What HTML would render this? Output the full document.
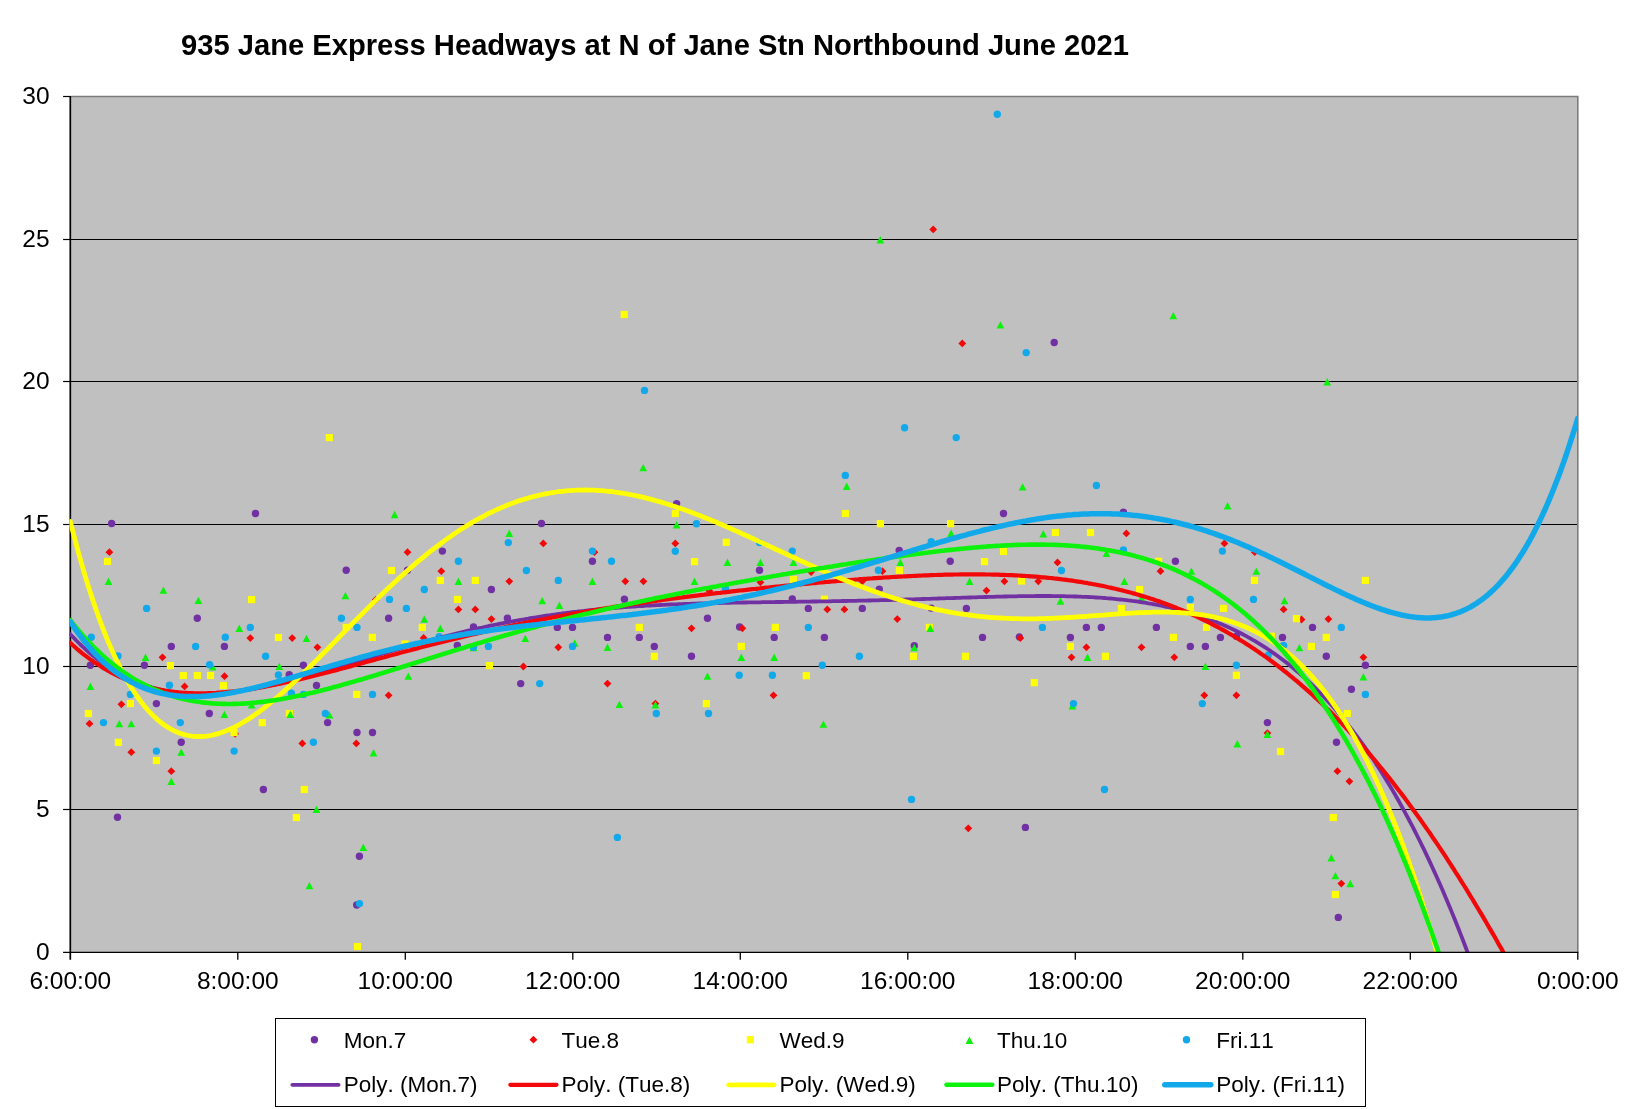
<!DOCTYPE html>
<html><head><meta charset="utf-8"><title>935 Jane Express Headways</title>
<style>
html,body{margin:0;padding:0;background:#fff;}
svg{display:block}
text{font-family:"Liberation Sans",sans-serif;fill:#000;font-kerning:none}
.ax{font-size:24.5px}
.lg{font-size:22.5px}
.ti{font-size:29.17px;font-weight:bold}
</style></head><body>
<svg width="1628" height="1109" viewBox="0 0 1628 1109">
<rect width="1628" height="1109" fill="#fff"/>
<defs><clipPath id="pc"><rect x="69.39999999999999" y="96.5" width="1508.4" height="855.4"/></clipPath></defs>
<rect x="70.3" y="96.5" width="1507.5" height="856.0" fill="#C0C0C0"/>

<line x1="70.3" y1="809.50" x2="1577.8" y2="809.50" stroke="#000" stroke-width="1" shape-rendering="crispEdges"/>
<line x1="70.3" y1="666.50" x2="1577.8" y2="666.50" stroke="#000" stroke-width="1" shape-rendering="crispEdges"/>
<line x1="70.3" y1="524.50" x2="1577.8" y2="524.50" stroke="#000" stroke-width="1" shape-rendering="crispEdges"/>
<line x1="70.3" y1="381.50" x2="1577.8" y2="381.50" stroke="#000" stroke-width="1" shape-rendering="crispEdges"/>
<line x1="70.3" y1="239.50" x2="1577.8" y2="239.50" stroke="#000" stroke-width="1" shape-rendering="crispEdges"/>
<path d="M70.3,96.50H1577.8V952.5" fill="none" stroke="#7c7c7c" stroke-width="1.6"/>
<line x1="70.3" y1="96.00" x2="70.3" y2="959.80" stroke="#000" stroke-width="1.7"/>
<line x1="63.099999999999994" y1="809.50" x2="70.3" y2="809.50" stroke="#000" stroke-width="1.2"/>
<line x1="63.099999999999994" y1="666.50" x2="70.3" y2="666.50" stroke="#000" stroke-width="1.2"/>
<line x1="63.099999999999994" y1="524.50" x2="70.3" y2="524.50" stroke="#000" stroke-width="1.2"/>
<line x1="63.099999999999994" y1="381.50" x2="70.3" y2="381.50" stroke="#000" stroke-width="1.2"/>
<line x1="63.099999999999994" y1="239.50" x2="70.3" y2="239.50" stroke="#000" stroke-width="1.2"/>
<line x1="63.099999999999994" y1="96.50" x2="70.3" y2="96.50" stroke="#000" stroke-width="1.2"/>
<line x1="237.80" y1="952.50" x2="237.80" y2="959.80" stroke="#000" stroke-width="1.3"/>
<line x1="405.30" y1="952.50" x2="405.30" y2="959.80" stroke="#000" stroke-width="1.3"/>
<line x1="572.80" y1="952.50" x2="572.80" y2="959.80" stroke="#000" stroke-width="1.3"/>
<line x1="740.30" y1="952.50" x2="740.30" y2="959.80" stroke="#000" stroke-width="1.3"/>
<line x1="907.80" y1="952.50" x2="907.80" y2="959.80" stroke="#000" stroke-width="1.3"/>
<line x1="1075.30" y1="952.50" x2="1075.30" y2="959.80" stroke="#000" stroke-width="1.3"/>
<line x1="1242.80" y1="952.50" x2="1242.80" y2="959.80" stroke="#000" stroke-width="1.3"/>
<line x1="1410.30" y1="952.50" x2="1410.30" y2="959.80" stroke="#000" stroke-width="1.3"/>
<line x1="1577.80" y1="952.50" x2="1577.80" y2="959.80" stroke="#000" stroke-width="1.3"/>
<g>
<circle cx="111.6" cy="523.5" r="3.7" fill="#7131A3"/>
<circle cx="255.5" cy="513.5" r="3.7" fill="#7131A3"/>
<circle cx="346.2" cy="570.3" r="3.7" fill="#7131A3"/>
<circle cx="197.3" cy="618.2" r="3.7" fill="#7131A3"/>
<circle cx="171.3" cy="646.4" r="3.7" fill="#7131A3"/>
<circle cx="224.4" cy="646.4" r="3.7" fill="#7131A3"/>
<circle cx="90.4" cy="665.2" r="3.7" fill="#7131A3"/>
<circle cx="144.4" cy="665.2" r="3.7" fill="#7131A3"/>
<circle cx="303.4" cy="665.2" r="3.7" fill="#7131A3"/>
<circle cx="289.2" cy="674.8" r="3.7" fill="#7131A3"/>
<circle cx="442.4" cy="551.1" r="3.7" fill="#7131A3"/>
<circle cx="407.5" cy="570.3" r="3.7" fill="#7131A3"/>
<circle cx="541.5" cy="523.5" r="3.7" fill="#7131A3"/>
<circle cx="592.4" cy="561.3" r="3.7" fill="#7131A3"/>
<circle cx="491.4" cy="589.5" r="3.7" fill="#7131A3"/>
<circle cx="624.4" cy="599.2" r="3.7" fill="#7131A3"/>
<circle cx="388.6" cy="618.2" r="3.7" fill="#7131A3"/>
<circle cx="507.4" cy="618.2" r="3.7" fill="#7131A3"/>
<circle cx="473.5" cy="627.0" r="3.7" fill="#7131A3"/>
<circle cx="557.3" cy="627.4" r="3.7" fill="#7131A3"/>
<circle cx="572.5" cy="627.4" r="3.7" fill="#7131A3"/>
<circle cx="607.5" cy="637.4" r="3.7" fill="#7131A3"/>
<circle cx="639.3" cy="637.4" r="3.7" fill="#7131A3"/>
<circle cx="654.3" cy="646.4" r="3.7" fill="#7131A3"/>
<circle cx="457.3" cy="645.5" r="3.7" fill="#7131A3"/>
<circle cx="520.7" cy="683.6" r="3.7" fill="#7131A3"/>
<circle cx="676.6" cy="503.6" r="3.7" fill="#7131A3"/>
<circle cx="759.5" cy="570.3" r="3.7" fill="#7131A3"/>
<circle cx="899.2" cy="550.4" r="3.7" fill="#7131A3"/>
<circle cx="950.2" cy="561.3" r="3.7" fill="#7131A3"/>
<circle cx="879.3" cy="589.1" r="3.7" fill="#7131A3"/>
<circle cx="792.3" cy="598.9" r="3.7" fill="#7131A3"/>
<circle cx="808.3" cy="608.4" r="3.7" fill="#7131A3"/>
<circle cx="862.3" cy="608.4" r="3.7" fill="#7131A3"/>
<circle cx="707.5" cy="618.2" r="3.7" fill="#7131A3"/>
<circle cx="739.6" cy="627.0" r="3.7" fill="#7131A3"/>
<circle cx="774.2" cy="637.4" r="3.7" fill="#7131A3"/>
<circle cx="824.4" cy="637.4" r="3.7" fill="#7131A3"/>
<circle cx="914.3" cy="645.8" r="3.7" fill="#7131A3"/>
<circle cx="691.5" cy="656.3" r="3.7" fill="#7131A3"/>
<circle cx="931.2" cy="608.1" r="3.7" fill="#7131A3"/>
<circle cx="1003.5" cy="513.5" r="3.7" fill="#7131A3"/>
<circle cx="1123.4" cy="512.2" r="3.7" fill="#7131A3"/>
<circle cx="1175.4" cy="561.3" r="3.7" fill="#7131A3"/>
<circle cx="966.4" cy="608.4" r="3.7" fill="#7131A3"/>
<circle cx="1086.4" cy="627.4" r="3.7" fill="#7131A3"/>
<circle cx="1101.3" cy="627.4" r="3.7" fill="#7131A3"/>
<circle cx="1156.4" cy="627.4" r="3.7" fill="#7131A3"/>
<circle cx="982.5" cy="637.4" r="3.7" fill="#7131A3"/>
<circle cx="1019.3" cy="637.0" r="3.7" fill="#7131A3"/>
<circle cx="1070.4" cy="637.4" r="3.7" fill="#7131A3"/>
<circle cx="1220.4" cy="637.4" r="3.7" fill="#7131A3"/>
<circle cx="1190.3" cy="646.4" r="3.7" fill="#7131A3"/>
<circle cx="1205.4" cy="646.4" r="3.7" fill="#7131A3"/>
<circle cx="1236.4" cy="636.3" r="3.7" fill="#7131A3"/>
<circle cx="1312.5" cy="627.4" r="3.7" fill="#7131A3"/>
<circle cx="1282.5" cy="637.4" r="3.7" fill="#7131A3"/>
<circle cx="1326.3" cy="656.3" r="3.7" fill="#7131A3"/>
<circle cx="1365.4" cy="665.2" r="3.7" fill="#7131A3"/>
<circle cx="156.4" cy="703.6" r="3.7" fill="#7131A3"/>
<circle cx="209.3" cy="713.5" r="3.7" fill="#7131A3"/>
<circle cx="316.5" cy="685.5" r="3.7" fill="#7131A3"/>
<circle cx="327.6" cy="722.6" r="3.7" fill="#7131A3"/>
<circle cx="357.0" cy="732.5" r="3.7" fill="#7131A3"/>
<circle cx="181.2" cy="742.3" r="3.7" fill="#7131A3"/>
<circle cx="263.4" cy="789.5" r="3.7" fill="#7131A3"/>
<circle cx="117.5" cy="817.3" r="3.7" fill="#7131A3"/>
<circle cx="359.4" cy="856.3" r="3.7" fill="#7131A3"/>
<circle cx="372.5" cy="732.5" r="3.7" fill="#7131A3"/>
<circle cx="1025.4" cy="827.4" r="3.7" fill="#7131A3"/>
<circle cx="1351.4" cy="689.2" r="3.7" fill="#7131A3"/>
<circle cx="1267.4" cy="722.6" r="3.7" fill="#7131A3"/>
<circle cx="1336.5" cy="742.3" r="3.7" fill="#7131A3"/>
<circle cx="356.7" cy="905.0" r="3.7" fill="#7131A3"/>
<circle cx="1338.3" cy="917.4" r="3.7" fill="#7131A3"/>
<circle cx="1054.2" cy="342.5" r="3.7" fill="#7131A3"/>
<path d="M109.4,548.3000000000001L113.30000000000001,552.2L109.4,556.1L105.5,552.2Z" fill="#F20808"/>
<path d="M250.3,634.2L254.20000000000002,638.1L250.3,642.0L246.4,638.1Z" fill="#F20808"/>
<path d="M292.2,634.2L296.09999999999997,638.1L292.2,642.0L288.3,638.1Z" fill="#F20808"/>
<path d="M317.4,643.4L321.29999999999995,647.3L317.4,651.1999999999999L313.5,647.3Z" fill="#F20808"/>
<path d="M162.5,653.4L166.4,657.3L162.5,661.1999999999999L158.6,657.3Z" fill="#F20808"/>
<path d="M224.5,672.3000000000001L228.4,676.2L224.5,680.1L220.6,676.2Z" fill="#F20808"/>
<path d="M407.5,548.3000000000001L411.4,552.2L407.5,556.1L403.6,552.2Z" fill="#F20808"/>
<path d="M441.3,567.3000000000001L445.2,571.2L441.3,575.1L437.40000000000003,571.2Z" fill="#F20808"/>
<path d="M543.3,539.5L547.1999999999999,543.4L543.3,547.3L539.4,543.4Z" fill="#F20808"/>
<path d="M594.4,548.3000000000001L598.3,552.2L594.4,556.1L590.5,552.2Z" fill="#F20808"/>
<path d="M509.3,577.4L513.2,581.3L509.3,585.1999999999999L505.40000000000003,581.3Z" fill="#F20808"/>
<path d="M625.3,577.4L629.1999999999999,581.3L625.3,585.1999999999999L621.4,581.3Z" fill="#F20808"/>
<path d="M643.4,577.4L647.3,581.3L643.4,585.1999999999999L639.5,581.3Z" fill="#F20808"/>
<path d="M375.7,595.9L379.59999999999997,599.8L375.7,603.6999999999999L371.8,599.8Z" fill="#F20808"/>
<path d="M458.4,605.5L462.29999999999995,609.4L458.4,613.3L454.5,609.4Z" fill="#F20808"/>
<path d="M475.3,605.5L479.2,609.4L475.3,613.3L471.40000000000003,609.4Z" fill="#F20808"/>
<path d="M491.4,615.2L495.29999999999995,619.1L491.4,623.0L487.5,619.1Z" fill="#F20808"/>
<path d="M423.6,634.0L427.5,637.9L423.6,641.8L419.70000000000005,637.9Z" fill="#F20808"/>
<path d="M558.3,643.4L562.1999999999999,647.3L558.3,651.1999999999999L554.4,647.3Z" fill="#F20808"/>
<path d="M523.4,662.6L527.3,666.5L523.4,670.4L519.5,666.5Z" fill="#F20808"/>
<path d="M607.5,679.7L611.4,683.6L607.5,687.5L603.6,683.6Z" fill="#F20808"/>
<path d="M675.3,539.5L679.1999999999999,543.4L675.3,547.3L671.4,543.4Z" fill="#F20808"/>
<path d="M811.1,568.2L815.0,572.1L811.1,576.0L807.2,572.1Z" fill="#F20808"/>
<path d="M882.4,567.3000000000001L886.3,571.2L882.4,575.1L878.5,571.2Z" fill="#F20808"/>
<path d="M760.4,578.4L764.3,582.3L760.4,586.1999999999999L756.5,582.3Z" fill="#F20808"/>
<path d="M862.3,577.4L866.1999999999999,581.3L862.3,585.1999999999999L858.4,581.3Z" fill="#F20808"/>
<path d="M709.4,587.0L713.3,590.9L709.4,594.8L705.5,590.9Z" fill="#F20808"/>
<path d="M827.3,605.5L831.1999999999999,609.4L827.3,613.3L823.4,609.4Z" fill="#F20808"/>
<path d="M844.4,605.5L848.3,609.4L844.4,613.3L840.5,609.4Z" fill="#F20808"/>
<path d="M897.3,615.2L901.1999999999999,619.1L897.3,623.0L893.4,619.1Z" fill="#F20808"/>
<path d="M691.5,624.4L695.4,628.3L691.5,632.1999999999999L687.6,628.3Z" fill="#F20808"/>
<path d="M742.4,624.4L746.3,628.3L742.4,632.1999999999999L738.5,628.3Z" fill="#F20808"/>
<path d="M1126.4,529.5L1130.3000000000002,533.4L1126.4,537.3L1122.5,533.4Z" fill="#F20808"/>
<path d="M1224.4,539.5L1228.3000000000002,543.4L1224.4,547.3L1220.5,543.4Z" fill="#F20808"/>
<path d="M1057.5,558.5L1061.4,562.4L1057.5,566.3L1053.6,562.4Z" fill="#F20808"/>
<path d="M1160.5,567.3000000000001L1164.4,571.2L1160.5,575.1L1156.6,571.2Z" fill="#F20808"/>
<path d="M1004.4,577.4L1008.3,581.3L1004.4,585.1999999999999L1000.5,581.3Z" fill="#F20808"/>
<path d="M1038.3,577.4L1042.2,581.3L1038.3,585.1999999999999L1034.3999999999999,581.3Z" fill="#F20808"/>
<path d="M986.5,586.7L990.4,590.6L986.5,594.5L982.6,590.6Z" fill="#F20808"/>
<path d="M1020.3,634.2L1024.2,638.1L1020.3,642.0L1016.4,638.1Z" fill="#F20808"/>
<path d="M1086.4,643.4L1090.3000000000002,647.3L1086.4,651.1999999999999L1082.5,647.3Z" fill="#F20808"/>
<path d="M1141.5,643.4L1145.4,647.3L1141.5,651.1999999999999L1137.6,647.3Z" fill="#F20808"/>
<path d="M1071.5,653.4L1075.4,657.3L1071.5,661.1999999999999L1067.6,657.3Z" fill="#F20808"/>
<path d="M1174.3,653.4L1178.2,657.3L1174.3,661.1999999999999L1170.3999999999999,657.3Z" fill="#F20808"/>
<path d="M1254.8,548.3000000000001L1258.7,552.2L1254.8,556.1L1250.8999999999999,552.2Z" fill="#F20808"/>
<path d="M1283.6,605.5L1287.5,609.4L1283.6,613.3L1279.6999999999998,609.4Z" fill="#F20808"/>
<path d="M1301.5,615.6L1305.4,619.5L1301.5,623.4L1297.6,619.5Z" fill="#F20808"/>
<path d="M1328.4,615.2L1332.3000000000002,619.1L1328.4,623.0L1324.5,619.1Z" fill="#F20808"/>
<path d="M1363.4,653.4L1367.3000000000002,657.3L1363.4,661.1999999999999L1359.5,657.3Z" fill="#F20808"/>
<path d="M184.6,682.5L188.5,686.4L184.6,690.3L180.7,686.4Z" fill="#F20808"/>
<path d="M121.4,700.4L125.30000000000001,704.3L121.4,708.1999999999999L117.5,704.3Z" fill="#F20808"/>
<path d="M89.5,719.8000000000001L93.4,723.7L89.5,727.6L85.6,723.7Z" fill="#F20808"/>
<path d="M235.1,729.9L239.0,733.8L235.1,737.6999999999999L231.2,733.8Z" fill="#F20808"/>
<path d="M302.3,739.5L306.2,743.4L302.3,747.3L298.40000000000003,743.4Z" fill="#F20808"/>
<path d="M356.3,739.5L360.2,743.4L356.3,747.3L352.40000000000003,743.4Z" fill="#F20808"/>
<path d="M131.3,748.3000000000001L135.20000000000002,752.2L131.3,756.1L127.4,752.2Z" fill="#F20808"/>
<path d="M171.3,767.3000000000001L175.20000000000002,771.2L171.3,775.1L167.4,771.2Z" fill="#F20808"/>
<path d="M388.6,691.4L392.5,695.3L388.6,699.1999999999999L384.70000000000005,695.3Z" fill="#F20808"/>
<path d="M655.4,699.7L659.3,703.6L655.4,707.5L651.5,703.6Z" fill="#F20808"/>
<path d="M773.5,691.4L777.4,695.3L773.5,699.1999999999999L769.6,695.3Z" fill="#F20808"/>
<path d="M1204.3,691.4L1208.2,695.3L1204.3,699.1999999999999L1200.3999999999999,695.3Z" fill="#F20808"/>
<path d="M1236.4,691.4L1240.3000000000002,695.3L1236.4,699.1999999999999L1232.5,695.3Z" fill="#F20808"/>
<path d="M968.3,824.4L972.1999999999999,828.3L968.3,832.1999999999999L964.4,828.3Z" fill="#F20808"/>
<path d="M1337.4,767.3000000000001L1341.3000000000002,771.2L1337.4,775.1L1333.5,771.2Z" fill="#F20808"/>
<path d="M1349.4,777.4L1353.3000000000002,781.3L1349.4,785.1999999999999L1345.5,781.3Z" fill="#F20808"/>
<path d="M1267.4,729.2L1271.3000000000002,733.1L1267.4,737.0L1263.5,733.1Z" fill="#F20808"/>
<path d="M1341.3,879.7L1345.2,883.6L1341.3,887.5L1337.3999999999999,883.6Z" fill="#F20808"/>
<path d="M933.2,225.5L937.1,229.4L933.2,233.3L929.3000000000001,229.4Z" fill="#F20808"/>
<path d="M962.3,339.5L966.1999999999999,343.4L962.3,347.29999999999995L958.4,343.4Z" fill="#F20808"/>
<rect x="103.9" y="557.8" width="7.2" height="7.2" fill="#FFFF00"/>
<rect x="248.0" y="596.0" width="7.2" height="7.2" fill="#FFFF00"/>
<rect x="274.8" y="633.9" width="7.2" height="7.2" fill="#FFFF00"/>
<rect x="342.6" y="623.8" width="7.2" height="7.2" fill="#FFFF00"/>
<rect x="166.8" y="662.0" width="7.2" height="7.2" fill="#FFFF00"/>
<rect x="179.7" y="671.9" width="7.2" height="7.2" fill="#FFFF00"/>
<rect x="193.7" y="671.9" width="7.2" height="7.2" fill="#FFFF00"/>
<rect x="206.9" y="671.9" width="7.2" height="7.2" fill="#FFFF00"/>
<rect x="387.9" y="566.9" width="7.2" height="7.2" fill="#FFFF00"/>
<rect x="436.7" y="576.8" width="7.2" height="7.2" fill="#FFFF00"/>
<rect x="471.7" y="576.8" width="7.2" height="7.2" fill="#FFFF00"/>
<rect x="453.9" y="595.8" width="7.2" height="7.2" fill="#FFFF00"/>
<rect x="418.7" y="623.8" width="7.2" height="7.2" fill="#FFFF00"/>
<rect x="368.7" y="633.8" width="7.2" height="7.2" fill="#FFFF00"/>
<rect x="635.7" y="623.8" width="7.2" height="7.2" fill="#FFFF00"/>
<rect x="650.7" y="652.7" width="7.2" height="7.2" fill="#FFFF00"/>
<rect x="485.8" y="662.0" width="7.2" height="7.2" fill="#FFFF00"/>
<rect x="401.5" y="640.4" width="7.2" height="7.2" fill="#FFFF00"/>
<rect x="671.7" y="509.9" width="7.2" height="7.2" fill="#FFFF00"/>
<rect x="841.8" y="509.9" width="7.2" height="7.2" fill="#FFFF00"/>
<rect x="876.8" y="520.1" width="7.2" height="7.2" fill="#FFFF00"/>
<rect x="947.0" y="520.1" width="7.2" height="7.2" fill="#FFFF00"/>
<rect x="722.7" y="538.7" width="7.2" height="7.2" fill="#FFFF00"/>
<rect x="690.9" y="558.0" width="7.2" height="7.2" fill="#FFFF00"/>
<rect x="895.8" y="566.7" width="7.2" height="7.2" fill="#FFFF00"/>
<rect x="789.8" y="575.9" width="7.2" height="7.2" fill="#FFFF00"/>
<rect x="820.8" y="595.6" width="7.2" height="7.2" fill="#FFFF00"/>
<rect x="771.7" y="623.8" width="7.2" height="7.2" fill="#FFFF00"/>
<rect x="925.8" y="623.8" width="7.2" height="7.2" fill="#FFFF00"/>
<rect x="737.7" y="642.8" width="7.2" height="7.2" fill="#FFFF00"/>
<rect x="909.8" y="652.7" width="7.2" height="7.2" fill="#FFFF00"/>
<rect x="802.7" y="672.1" width="7.2" height="7.2" fill="#FFFF00"/>
<rect x="1051.8" y="528.9" width="7.2" height="7.2" fill="#FFFF00"/>
<rect x="1086.9" y="528.9" width="7.2" height="7.2" fill="#FFFF00"/>
<rect x="999.9" y="547.9" width="7.2" height="7.2" fill="#FFFF00"/>
<rect x="980.9" y="558.0" width="7.2" height="7.2" fill="#FFFF00"/>
<rect x="1155.0" y="557.7" width="7.2" height="7.2" fill="#FFFF00"/>
<rect x="1017.9" y="577.4" width="7.2" height="7.2" fill="#FFFF00"/>
<rect x="1136.1" y="585.9" width="7.2" height="7.2" fill="#FFFF00"/>
<rect x="1250.9" y="576.8" width="7.2" height="7.2" fill="#FFFF00"/>
<rect x="1117.8" y="604.8" width="7.2" height="7.2" fill="#FFFF00"/>
<rect x="1186.7" y="603.9" width="7.2" height="7.2" fill="#FFFF00"/>
<rect x="1219.9" y="604.8" width="7.2" height="7.2" fill="#FFFF00"/>
<rect x="1202.9" y="623.8" width="7.2" height="7.2" fill="#FFFF00"/>
<rect x="1169.8" y="633.8" width="7.2" height="7.2" fill="#FFFF00"/>
<rect x="1066.8" y="642.8" width="7.2" height="7.2" fill="#FFFF00"/>
<rect x="961.9" y="652.7" width="7.2" height="7.2" fill="#FFFF00"/>
<rect x="1101.8" y="652.7" width="7.2" height="7.2" fill="#FFFF00"/>
<rect x="1232.8" y="671.7" width="7.2" height="7.2" fill="#FFFF00"/>
<rect x="1030.7" y="679.1" width="7.2" height="7.2" fill="#FFFF00"/>
<rect x="1361.8" y="576.8" width="7.2" height="7.2" fill="#FFFF00"/>
<rect x="1292.9" y="615.0" width="7.2" height="7.2" fill="#FFFF00"/>
<rect x="1322.7" y="633.8" width="7.2" height="7.2" fill="#FFFF00"/>
<rect x="1307.8" y="642.8" width="7.2" height="7.2" fill="#FFFF00"/>
<rect x="219.8" y="681.9" width="7.2" height="7.2" fill="#FFFF00"/>
<rect x="126.8" y="700.0" width="7.2" height="7.2" fill="#FFFF00"/>
<rect x="84.8" y="709.9" width="7.2" height="7.2" fill="#FFFF00"/>
<rect x="258.7" y="719.0" width="7.2" height="7.2" fill="#FFFF00"/>
<rect x="285.8" y="709.9" width="7.2" height="7.2" fill="#FFFF00"/>
<rect x="230.5" y="728.9" width="7.2" height="7.2" fill="#FFFF00"/>
<rect x="114.8" y="738.7" width="7.2" height="7.2" fill="#FFFF00"/>
<rect x="152.8" y="756.9" width="7.2" height="7.2" fill="#FFFF00"/>
<rect x="300.7" y="785.9" width="7.2" height="7.2" fill="#FFFF00"/>
<rect x="292.8" y="813.9" width="7.2" height="7.2" fill="#FFFF00"/>
<rect x="353.1" y="690.8" width="7.2" height="7.2" fill="#FFFF00"/>
<rect x="702.8" y="700.0" width="7.2" height="7.2" fill="#FFFF00"/>
<rect x="1343.7" y="709.9" width="7.2" height="7.2" fill="#FFFF00"/>
<rect x="1276.9" y="747.9" width="7.2" height="7.2" fill="#FFFF00"/>
<rect x="1329.7" y="813.9" width="7.2" height="7.2" fill="#FFFF00"/>
<rect x="353.9" y="942.9" width="7.2" height="7.2" fill="#FFFF00"/>
<rect x="1331.8" y="890.9" width="7.2" height="7.2" fill="#FFFF00"/>
<rect x="620.6" y="310.9" width="7.2" height="7.2" fill="#FFFF00"/>
<rect x="325.7" y="434.0" width="7.2" height="7.2" fill="#FFFF00"/>
<rect x="1267.8" y="632.7" width="7.2" height="7.2" fill="#FFFF00"/>
<path d="M108.5,577.5L112.4,584.9L104.6,584.9Z" fill="#0CF20C"/>
<path d="M163.4,586.4L167.3,593.8L159.5,593.8Z" fill="#0CF20C"/>
<path d="M198.4,596.7L202.3,604.1L194.5,604.1Z" fill="#0CF20C"/>
<path d="M345.4,591.9L349.3,599.3L341.5,599.3Z" fill="#0CF20C"/>
<path d="M239.3,624.5L243.2,631.9L235.4,631.9Z" fill="#0CF20C"/>
<path d="M306.5,634.7L310.4,642.1L302.6,642.1Z" fill="#0CF20C"/>
<path d="M145.5,653.5L149.4,660.9L141.6,660.9Z" fill="#0CF20C"/>
<path d="M279.3,662.7L283.2,670.1L275.4,670.1Z" fill="#0CF20C"/>
<path d="M212.6,663.2L216.5,670.6L208.7,670.6Z" fill="#0CF20C"/>
<path d="M394.6,510.8L398.5,518.2L390.7,518.2Z" fill="#0CF20C"/>
<path d="M509.3,529.6L513.2,537.0L505.4,537.0Z" fill="#0CF20C"/>
<path d="M458.4,577.5L462.3,584.9L454.5,584.9Z" fill="#0CF20C"/>
<path d="M592.4,577.5L596.3,584.9L588.5,584.9Z" fill="#0CF20C"/>
<path d="M542.2,596.9L546.1,604.3L538.3,604.3Z" fill="#0CF20C"/>
<path d="M559.4,601.5L563.3,608.9L555.5,608.9Z" fill="#0CF20C"/>
<path d="M424.3,615.3L428.2,622.7L420.4,622.7Z" fill="#0CF20C"/>
<path d="M440.3,624.5L444.2,631.9L436.4,631.9Z" fill="#0CF20C"/>
<path d="M525.3,634.7L529.2,642.1L521.4,642.1Z" fill="#0CF20C"/>
<path d="M574.7,639.3L578.6,646.7L570.8,646.7Z" fill="#0CF20C"/>
<path d="M607.5,643.5L611.4,650.9L603.6,650.9Z" fill="#0CF20C"/>
<path d="M473.5,643.9L477.4,651.3L469.6,651.3Z" fill="#0CF20C"/>
<path d="M408.3,672.4L412.2,679.8L404.4,679.8Z" fill="#0CF20C"/>
<path d="M846.7,482.6L850.6,490.0L842.8,490.0Z" fill="#0CF20C"/>
<path d="M676.6,521.0L680.5,528.4L672.7,528.4Z" fill="#0CF20C"/>
<path d="M951.1,529.6L955.0,537.0L947.2,537.0Z" fill="#0CF20C"/>
<path d="M727.4,558.6L731.3,566.0L723.5,566.0Z" fill="#0CF20C"/>
<path d="M760.4,558.6L764.3,566.0L756.5,566.0Z" fill="#0CF20C"/>
<path d="M793.4,558.6L797.3,566.0L789.5,566.0Z" fill="#0CF20C"/>
<path d="M900.3,558.6L904.2,566.0L896.4,566.0Z" fill="#0CF20C"/>
<path d="M694.5,577.5L698.4,584.9L690.6,584.9Z" fill="#0CF20C"/>
<path d="M930.3,624.5L934.2,631.9L926.4,631.9Z" fill="#0CF20C"/>
<path d="M914.3,643.9L918.2,651.3L910.4,651.3Z" fill="#0CF20C"/>
<path d="M741.3,653.5L745.2,660.9L737.4,660.9Z" fill="#0CF20C"/>
<path d="M774.2,653.5L778.1,660.9L770.3,660.9Z" fill="#0CF20C"/>
<path d="M707.5,672.4L711.4,679.8L703.6,679.8Z" fill="#0CF20C"/>
<path d="M1022.6,483.2L1026.5,490.6L1018.7,490.6Z" fill="#0CF20C"/>
<path d="M1227.6,502.0L1231.5,509.4L1223.7,509.4Z" fill="#0CF20C"/>
<path d="M1043.3,530.0L1047.2,537.4L1039.4,537.4Z" fill="#0CF20C"/>
<path d="M1106.5,549.5L1110.4,556.9L1102.6,556.9Z" fill="#0CF20C"/>
<path d="M1191.4,567.4L1195.3,574.8L1187.5,574.8Z" fill="#0CF20C"/>
<path d="M1256.3,567.4L1260.2,574.8L1252.4,574.8Z" fill="#0CF20C"/>
<path d="M969.6,577.5L973.5,584.9L965.7,584.9Z" fill="#0CF20C"/>
<path d="M1124.4,577.5L1128.3,584.9L1120.5,584.9Z" fill="#0CF20C"/>
<path d="M1060.4,597.3L1064.3,604.7L1056.5,604.7Z" fill="#0CF20C"/>
<path d="M1141.5,594.1L1145.4,601.5L1137.6,601.5Z" fill="#0CF20C"/>
<path d="M1087.5,653.5L1091.4,660.9L1083.6,660.9Z" fill="#0CF20C"/>
<path d="M1205.4,662.7L1209.3,670.1L1201.5,670.1Z" fill="#0CF20C"/>
<path d="M1284.5,596.9L1288.4,604.3L1280.6,604.3Z" fill="#0CF20C"/>
<path d="M1299.4,643.9L1303.3,651.3L1295.5,651.3Z" fill="#0CF20C"/>
<path d="M1363.4,673.0L1367.3,680.4L1359.5,680.4Z" fill="#0CF20C"/>
<path d="M90.4,682.6L94.3,690.0L86.5,690.0Z" fill="#0CF20C"/>
<path d="M224.4,710.7L228.3,718.1L220.5,718.1Z" fill="#0CF20C"/>
<path d="M290.3,710.7L294.2,718.1L286.4,718.1Z" fill="#0CF20C"/>
<path d="M119.3,719.9L123.2,727.3L115.4,727.3Z" fill="#0CF20C"/>
<path d="M131.3,719.9L135.2,727.3L127.4,727.3Z" fill="#0CF20C"/>
<path d="M181.2,748.4L185.1,755.8L177.3,755.8Z" fill="#0CF20C"/>
<path d="M171.3,777.5L175.2,784.9L167.4,784.9Z" fill="#0CF20C"/>
<path d="M316.5,805.7L320.4,813.1L312.6,813.1Z" fill="#0CF20C"/>
<path d="M251.6,701.1L255.5,708.5L247.7,708.5Z" fill="#0CF20C"/>
<path d="M329.4,711.2L333.3,718.6L325.5,718.6Z" fill="#0CF20C"/>
<path d="M373.5,749.0L377.4,756.4L369.6,756.4Z" fill="#0CF20C"/>
<path d="M619.4,700.7L623.3,708.1L615.5,708.1Z" fill="#0CF20C"/>
<path d="M655.4,701.1L659.3,708.5L651.5,708.5Z" fill="#0CF20C"/>
<path d="M363.3,843.5L367.2,850.9L359.4,850.9Z" fill="#0CF20C"/>
<path d="M823.4,720.4L827.3,727.8L819.5,727.8Z" fill="#0CF20C"/>
<path d="M1072.4,702.0L1076.3,709.4L1068.5,709.4Z" fill="#0CF20C"/>
<path d="M1237.3,740.1L1241.2,747.5L1233.4,747.5Z" fill="#0CF20C"/>
<path d="M1267.4,730.6L1271.3,738.0L1263.5,738.0Z" fill="#0CF20C"/>
<path d="M1331.3,854.0L1335.2,861.4L1327.4,861.4Z" fill="#0CF20C"/>
<path d="M1335.4,871.9L1339.3,879.3L1331.5,879.3Z" fill="#0CF20C"/>
<path d="M1350.3,879.8L1354.2,887.2L1346.4,887.2Z" fill="#0CF20C"/>
<path d="M309.4,881.9L313.3,889.3L305.5,889.3Z" fill="#0CF20C"/>
<path d="M880.3,236.1L884.2,243.5L876.4,243.5Z" fill="#0CF20C"/>
<path d="M1000.4,321.2L1004.3,328.6L996.5,328.6Z" fill="#0CF20C"/>
<path d="M1173.3,311.9L1177.2,319.3L1169.4,319.3Z" fill="#0CF20C"/>
<path d="M1327.2,378.0L1331.1,385.4L1323.3,385.4Z" fill="#0CF20C"/>
<path d="M643.2,463.9L647.1,471.3L639.3,471.3Z" fill="#0CF20C"/>
<circle cx="146.6" cy="608.4" r="3.7" fill="#12A9EB"/>
<circle cx="91.3" cy="637.2" r="3.7" fill="#12A9EB"/>
<circle cx="341.4" cy="618.2" r="3.7" fill="#12A9EB"/>
<circle cx="357.0" cy="627.4" r="3.7" fill="#12A9EB"/>
<circle cx="250.3" cy="627.4" r="3.7" fill="#12A9EB"/>
<circle cx="225.3" cy="637.2" r="3.7" fill="#12A9EB"/>
<circle cx="195.6" cy="646.4" r="3.7" fill="#12A9EB"/>
<circle cx="265.6" cy="656.3" r="3.7" fill="#12A9EB"/>
<circle cx="118.0" cy="656.0" r="3.7" fill="#12A9EB"/>
<circle cx="209.6" cy="664.8" r="3.7" fill="#12A9EB"/>
<circle cx="278.4" cy="675.0" r="3.7" fill="#12A9EB"/>
<circle cx="508.3" cy="542.6" r="3.7" fill="#12A9EB"/>
<circle cx="592.4" cy="551.1" r="3.7" fill="#12A9EB"/>
<circle cx="458.4" cy="561.3" r="3.7" fill="#12A9EB"/>
<circle cx="611.5" cy="561.3" r="3.7" fill="#12A9EB"/>
<circle cx="526.4" cy="570.5" r="3.7" fill="#12A9EB"/>
<circle cx="558.3" cy="580.4" r="3.7" fill="#12A9EB"/>
<circle cx="424.3" cy="589.5" r="3.7" fill="#12A9EB"/>
<circle cx="389.5" cy="599.4" r="3.7" fill="#12A9EB"/>
<circle cx="406.4" cy="608.4" r="3.7" fill="#12A9EB"/>
<circle cx="439.2" cy="636.6" r="3.7" fill="#12A9EB"/>
<circle cx="473.5" cy="647.3" r="3.7" fill="#12A9EB"/>
<circle cx="488.4" cy="646.4" r="3.7" fill="#12A9EB"/>
<circle cx="572.5" cy="646.4" r="3.7" fill="#12A9EB"/>
<circle cx="539.7" cy="683.6" r="3.7" fill="#12A9EB"/>
<circle cx="696.5" cy="523.7" r="3.7" fill="#12A9EB"/>
<circle cx="675.3" cy="551.3" r="3.7" fill="#12A9EB"/>
<circle cx="759.5" cy="542.6" r="3.7" fill="#12A9EB"/>
<circle cx="792.3" cy="551.1" r="3.7" fill="#12A9EB"/>
<circle cx="931.2" cy="541.7" r="3.7" fill="#12A9EB"/>
<circle cx="878.4" cy="570.3" r="3.7" fill="#12A9EB"/>
<circle cx="725.4" cy="588.7" r="3.7" fill="#12A9EB"/>
<circle cx="808.3" cy="627.4" r="3.7" fill="#12A9EB"/>
<circle cx="859.4" cy="656.3" r="3.7" fill="#12A9EB"/>
<circle cx="822.3" cy="665.2" r="3.7" fill="#12A9EB"/>
<circle cx="739.2" cy="675.3" r="3.7" fill="#12A9EB"/>
<circle cx="772.4" cy="675.3" r="3.7" fill="#12A9EB"/>
<circle cx="1096.4" cy="485.5" r="3.7" fill="#12A9EB"/>
<circle cx="1123.4" cy="550.0" r="3.7" fill="#12A9EB"/>
<circle cx="1222.4" cy="551.1" r="3.7" fill="#12A9EB"/>
<circle cx="1061.5" cy="570.5" r="3.7" fill="#12A9EB"/>
<circle cx="1190.3" cy="599.4" r="3.7" fill="#12A9EB"/>
<circle cx="1253.5" cy="599.4" r="3.7" fill="#12A9EB"/>
<circle cx="1042.4" cy="627.4" r="3.7" fill="#12A9EB"/>
<circle cx="1236.4" cy="665.2" r="3.7" fill="#12A9EB"/>
<circle cx="1341.3" cy="627.4" r="3.7" fill="#12A9EB"/>
<circle cx="1283.6" cy="645.5" r="3.7" fill="#12A9EB"/>
<circle cx="1268.3" cy="655.1" r="3.7" fill="#12A9EB"/>
<circle cx="169.5" cy="685.2" r="3.7" fill="#12A9EB"/>
<circle cx="130.4" cy="694.4" r="3.7" fill="#12A9EB"/>
<circle cx="291.4" cy="693.3" r="3.7" fill="#12A9EB"/>
<circle cx="303.4" cy="694.4" r="3.7" fill="#12A9EB"/>
<circle cx="325.3" cy="713.5" r="3.7" fill="#12A9EB"/>
<circle cx="103.5" cy="722.6" r="3.7" fill="#12A9EB"/>
<circle cx="180.3" cy="722.6" r="3.7" fill="#12A9EB"/>
<circle cx="313.4" cy="742.3" r="3.7" fill="#12A9EB"/>
<circle cx="156.4" cy="751.1" r="3.7" fill="#12A9EB"/>
<circle cx="234.1" cy="751.1" r="3.7" fill="#12A9EB"/>
<circle cx="372.5" cy="694.4" r="3.7" fill="#12A9EB"/>
<circle cx="656.3" cy="713.5" r="3.7" fill="#12A9EB"/>
<circle cx="617.4" cy="837.4" r="3.7" fill="#12A9EB"/>
<circle cx="708.5" cy="713.5" r="3.7" fill="#12A9EB"/>
<circle cx="911.5" cy="799.4" r="3.7" fill="#12A9EB"/>
<circle cx="1073.5" cy="703.6" r="3.7" fill="#12A9EB"/>
<circle cx="1202.3" cy="703.6" r="3.7" fill="#12A9EB"/>
<circle cx="1104.5" cy="789.5" r="3.7" fill="#12A9EB"/>
<circle cx="1365.4" cy="694.4" r="3.7" fill="#12A9EB"/>
<circle cx="359.5" cy="903.6" r="3.7" fill="#12A9EB"/>
<circle cx="997.3" cy="114.3" r="3.7" fill="#12A9EB"/>
<circle cx="644.5" cy="390.4" r="3.7" fill="#12A9EB"/>
<circle cx="1026.2" cy="352.6" r="3.7" fill="#12A9EB"/>
<circle cx="904.6" cy="427.8" r="3.7" fill="#12A9EB"/>
<circle cx="956.2" cy="437.6" r="3.7" fill="#12A9EB"/>
<circle cx="845.3" cy="475.4" r="3.7" fill="#12A9EB"/>
</g>
<g clip-path="url(#pc)" fill="none" stroke-linejoin="round" stroke-linecap="round">
<path d="M70.3,634.2L72.3,636.3L74.3,638.4L76.3,640.5L78.3,642.5L80.3,644.5L82.3,646.4L84.3,648.2L86.3,650.0L88.3,651.8L90.3,653.5L92.3,655.2L94.3,656.8L96.3,658.4L98.3,660.0L100.3,661.5L102.3,662.9L104.3,664.4L106.3,665.8L108.3,667.1L110.3,668.4L112.3,669.7L114.3,670.9L116.3,672.1L118.3,673.2L120.3,674.3L122.3,675.4L124.3,676.4L126.3,677.4L128.3,678.4L130.3,679.3L132.3,680.2L134.3,681.1L136.3,681.9L138.3,682.7L140.3,683.5L142.3,684.2L144.3,684.9L146.3,685.6L148.3,686.3L150.3,686.9L152.3,687.5L154.3,688.0L156.3,688.6L158.3,689.1L160.3,689.5L162.3,690.0L164.3,690.4L166.3,690.8L168.3,691.2L170.3,691.5L172.3,691.9L174.3,692.2L176.3,692.4L178.3,692.7L180.3,692.9L182.3,693.1L184.3,693.3L186.3,693.5L188.3,693.6L190.3,693.7L192.3,693.8L194.3,693.9L196.3,694.0L198.3,694.0L200.3,694.0L202.3,694.0L204.3,694.0L206.3,694.0L208.3,693.9L210.3,693.9L212.3,693.8L214.3,693.7L216.3,693.5L218.3,693.4L220.3,693.3L222.3,693.1L224.3,692.9L226.3,692.7L228.3,692.5L230.3,692.3L232.3,692.1L234.3,691.8L236.3,691.5L238.3,691.3L240.3,691.0L242.3,690.7L244.3,690.4L246.3,690.0L248.3,689.7L250.3,689.4L252.3,689.0L254.3,688.6L256.3,688.3L258.3,687.9L260.3,687.5L262.3,687.1L264.3,686.7L266.3,686.2L268.3,685.8L270.3,685.4L272.3,684.9L274.3,684.5L276.3,684.0L278.3,683.5L280.3,683.1L282.3,682.6L284.3,682.1L286.3,681.6L288.3,681.1L290.3,680.6L292.3,680.0L294.3,679.5L296.3,679.0L298.3,678.5L300.3,677.9L302.3,677.4L304.3,676.8L306.3,676.3L308.3,675.7L310.3,675.2L312.3,674.6L314.3,674.0L316.3,673.5L318.3,672.9L320.3,672.3L322.3,671.7L324.3,671.2L326.3,670.6L328.3,670.0L330.3,669.4L332.3,668.8L334.3,668.2L336.3,667.6L338.3,667.0L340.3,666.4L342.3,665.8L344.3,665.2L346.3,664.6L348.3,664.0L350.3,663.4L352.3,662.8L354.3,662.2L356.3,661.6L358.3,661.0L360.3,660.4L362.3,659.8L364.3,659.2L366.3,658.6L368.3,658.0L370.3,657.4L372.3,656.8L374.3,656.2L376.3,655.6L378.3,655.0L380.3,654.4L382.3,653.8L384.3,653.2L386.3,652.6L388.3,652.0L390.3,651.4L392.3,650.9L394.3,650.3L396.3,649.7L398.3,649.1L400.3,648.5L402.3,648.0L404.3,647.4L406.3,646.8L408.3,646.2L410.3,645.7L412.3,645.1L414.3,644.5L416.3,644.0L418.3,643.4L420.3,642.9L422.3,642.3L424.3,641.8L426.3,641.2L428.3,640.7L430.3,640.2L432.3,639.6L434.3,639.1L436.3,638.6L438.3,638.0L440.3,637.5L442.3,637.0L444.3,636.5L446.3,636.0L448.3,635.5L450.3,635.0L452.3,634.5L454.3,634.0L456.3,633.5L458.3,633.0L460.3,632.5L462.3,632.0L464.3,631.6L466.3,631.1L468.3,630.6L470.3,630.2L472.3,629.7L474.3,629.2L476.3,628.8L478.3,628.3L480.3,627.9L482.3,627.5L484.3,627.0L486.3,626.6L488.3,626.2L490.3,625.7L492.3,625.3L494.3,624.9L496.3,624.5L498.3,624.1L500.3,623.7L502.3,623.3L504.3,622.9L506.3,622.5L508.3,622.2L510.3,621.8L512.3,621.4L514.3,621.0L516.3,620.7L518.3,620.3L520.3,620.0L522.3,619.6L524.3,619.3L526.3,618.9L528.3,618.6L530.3,618.2L532.3,617.9L534.3,617.6L536.3,617.3L538.3,617.0L540.3,616.6L542.3,616.3L544.3,616.0L546.3,615.7L548.3,615.4L550.3,615.2L552.3,614.9L554.3,614.6L556.3,614.3L558.3,614.0L560.3,613.8L562.3,613.5L564.3,613.2L566.3,613.0L568.3,612.7L570.3,612.5L572.3,612.2L574.3,612.0L576.3,611.8L578.3,611.5L580.3,611.3L582.3,611.1L584.3,610.9L586.3,610.6L588.3,610.4L590.3,610.2L592.3,610.0L594.3,609.8L596.3,609.6L598.3,609.4L600.3,609.2L602.3,609.0L604.3,608.8L606.3,608.7L608.3,608.5L610.3,608.3L612.3,608.1L614.3,608.0L616.3,607.8L618.3,607.7L620.3,607.5L622.3,607.3L624.3,607.2L626.3,607.0L628.3,606.9L630.3,606.8L632.3,606.6L634.3,606.5L636.3,606.4L638.3,606.2L640.3,606.1L642.3,606.0L644.3,605.9L646.3,605.7L648.3,605.6L650.3,605.5L652.3,605.4L654.3,605.3L656.3,605.2L658.3,605.1L660.3,605.0L662.3,604.9L664.3,604.8L666.3,604.7L668.3,604.6L670.3,604.5L672.3,604.4L674.3,604.4L676.3,604.3L678.3,604.2L680.3,604.1L682.3,604.1L684.3,604.0L686.3,603.9L688.3,603.8L690.3,603.8L692.3,603.7L694.3,603.6L696.3,603.6L698.3,603.5L700.3,603.5L702.3,603.4L704.3,603.4L706.3,603.3L708.3,603.2L710.3,603.2L712.3,603.1L714.3,603.1L716.3,603.0L718.3,603.0L720.3,603.0L722.3,602.9L724.3,602.9L726.3,602.8L728.3,602.8L730.3,602.8L732.3,602.7L734.3,602.7L736.3,602.6L738.3,602.6L740.3,602.6L742.3,602.5L744.3,602.5L746.3,602.5L748.3,602.4L750.3,602.4L752.3,602.4L754.3,602.3L756.3,602.3L758.3,602.3L760.3,602.3L762.3,602.2L764.3,602.2L766.3,602.2L768.3,602.1L770.3,602.1L772.3,602.1L774.3,602.1L776.3,602.0L778.3,602.0L780.3,602.0L782.3,602.0L784.3,601.9L786.3,601.9L788.3,601.9L790.3,601.8L792.3,601.8L794.3,601.8L796.3,601.8L798.3,601.7L800.3,601.7L802.3,601.7L804.3,601.7L806.3,601.6L808.3,601.6L810.3,601.6L812.3,601.5L814.3,601.5L816.3,601.5L818.3,601.4L820.3,601.4L822.3,601.4L824.3,601.4L826.3,601.3L828.3,601.3L830.3,601.3L832.3,601.2L834.3,601.2L836.3,601.2L838.3,601.1L840.3,601.1L842.3,601.0L844.3,601.0L846.3,601.0L848.3,600.9L850.3,600.9L852.3,600.9L854.3,600.8L856.3,600.8L858.3,600.7L860.3,600.7L862.3,600.6L864.3,600.6L866.3,600.6L868.3,600.5L870.3,600.5L872.3,600.4L874.3,600.4L876.3,600.3L878.3,600.3L880.3,600.2L882.3,600.2L884.3,600.1L886.3,600.1L888.3,600.0L890.3,600.0L892.3,599.9L894.3,599.8L896.3,599.8L898.3,599.7L900.3,599.7L902.3,599.6L904.3,599.6L906.3,599.5L908.3,599.4L910.3,599.4L912.3,599.3L914.3,599.3L916.3,599.2L918.3,599.1L920.3,599.1L922.3,599.0L924.3,599.0L926.3,598.9L928.3,598.8L930.3,598.8L932.3,598.7L934.3,598.6L936.3,598.6L938.3,598.5L940.3,598.4L942.3,598.4L944.3,598.3L946.3,598.2L948.3,598.2L950.3,598.1L952.3,598.1L954.3,598.0L956.3,597.9L958.3,597.9L960.3,597.8L962.3,597.7L964.3,597.7L966.3,597.6L968.3,597.5L970.3,597.5L972.3,597.4L974.3,597.3L976.3,597.3L978.3,597.2L980.3,597.2L982.3,597.1L984.3,597.0L986.3,597.0L988.3,596.9L990.3,596.9L992.3,596.8L994.3,596.8L996.3,596.7L998.3,596.7L1000.3,596.6L1002.3,596.6L1004.3,596.5L1006.3,596.5L1008.3,596.4L1010.3,596.4L1012.3,596.4L1014.3,596.3L1016.3,596.3L1018.3,596.2L1020.3,596.2L1022.3,596.2L1024.3,596.2L1026.3,596.1L1028.3,596.1L1030.3,596.1L1032.3,596.1L1034.3,596.1L1036.3,596.0L1038.3,596.0L1040.3,596.0L1042.3,596.0L1044.3,596.0L1046.3,596.0L1048.3,596.0L1050.3,596.0L1052.3,596.1L1054.3,596.1L1056.3,596.1L1058.3,596.1L1060.3,596.1L1062.3,596.2L1064.3,596.2L1066.3,596.3L1068.3,596.3L1070.3,596.4L1072.3,596.4L1074.3,596.5L1076.3,596.5L1078.3,596.6L1080.3,596.7L1082.3,596.8L1084.3,596.8L1086.3,596.9L1088.3,597.0L1090.3,597.1L1092.3,597.2L1094.3,597.4L1096.3,597.5L1098.3,597.6L1100.3,597.7L1102.3,597.9L1104.3,598.0L1106.3,598.2L1108.3,598.3L1110.3,598.5L1112.3,598.7L1114.3,598.9L1116.3,599.1L1118.3,599.3L1120.3,599.5L1122.3,599.7L1124.3,599.9L1126.3,600.1L1128.3,600.4L1130.3,600.6L1132.3,600.9L1134.3,601.1L1136.3,601.4L1138.3,601.7L1140.3,602.0L1142.3,602.3L1144.3,602.6L1146.3,602.9L1148.3,603.3L1150.3,603.6L1152.3,604.0L1154.3,604.3L1156.3,604.7L1158.3,605.1L1160.3,605.5L1162.3,605.9L1164.3,606.3L1166.3,606.8L1168.3,607.2L1170.3,607.7L1172.3,608.1L1174.3,608.6L1176.3,609.1L1178.3,609.6L1180.3,610.2L1182.3,610.7L1184.3,611.2L1186.3,611.8L1188.3,612.4L1190.3,613.0L1192.3,613.6L1194.3,614.2L1196.3,614.8L1198.3,615.5L1200.3,616.1L1202.3,616.8L1204.3,617.5L1206.3,618.2L1208.3,619.0L1210.3,619.7L1212.3,620.5L1214.3,621.3L1216.3,622.0L1218.3,622.9L1220.3,623.7L1222.3,624.5L1224.3,625.4L1226.3,626.3L1228.3,627.2L1230.3,628.1L1232.3,629.1L1234.3,630.0L1236.3,631.0L1238.3,632.0L1240.3,633.0L1242.3,634.0L1244.3,635.1L1246.3,636.2L1248.3,637.3L1250.3,638.4L1252.3,639.6L1254.3,640.7L1256.3,641.9L1258.3,643.1L1260.3,644.3L1262.3,645.6L1264.3,646.9L1266.3,648.2L1268.3,649.5L1270.3,650.8L1272.3,652.2L1274.3,653.6L1276.3,655.0L1278.3,656.5L1280.3,658.0L1282.3,659.5L1284.3,661.0L1286.3,662.5L1288.3,664.1L1290.3,665.7L1292.3,667.3L1294.3,669.0L1296.3,670.7L1298.3,672.4L1300.3,674.1L1302.3,675.9L1304.3,677.7L1306.3,679.5L1308.3,681.4L1310.3,683.2L1312.3,685.2L1314.3,687.1L1316.3,689.1L1318.3,691.1L1320.3,693.1L1322.3,695.2L1324.3,697.3L1326.3,699.4L1328.3,701.6L1330.3,703.8L1332.3,706.0L1334.3,708.3L1336.3,710.6L1338.3,712.9L1340.3,715.3L1342.3,717.7L1344.3,720.1L1346.3,722.6L1348.3,725.1L1350.3,727.6L1352.3,730.2L1354.3,732.8L1356.3,735.4L1358.3,738.1L1360.3,740.9L1362.3,743.6L1364.3,746.4L1366.3,749.3L1368.3,752.2L1370.3,755.1L1372.3,758.0L1374.3,761.0L1376.3,764.1L1378.3,767.2L1380.3,770.3L1382.3,773.4L1384.3,776.7L1386.3,779.9L1388.3,783.2L1390.3,786.5L1392.3,789.9L1394.3,793.3L1396.3,796.8L1398.3,800.3L1400.3,803.9L1402.3,807.5L1404.3,811.1L1406.3,814.8L1408.3,818.5L1410.3,822.3L1412.3,826.2L1414.3,830.0L1416.3,834.0L1418.3,838.0L1420.3,842.0L1422.3,846.1L1424.3,850.2L1426.3,854.4L1428.3,858.6L1430.3,862.9L1432.3,867.2L1434.3,871.6L1436.3,876.0L1438.3,880.5L1440.3,885.0L1442.3,889.6L1444.3,894.2L1446.3,898.9L1448.3,903.7L1450.3,908.5L1452.3,913.4L1454.3,918.3L1456.3,923.2L1458.3,928.3L1460.3,933.4L1462.3,938.5L1464.3,943.7L1466.3,949.0L1468.3,954.3L1470.3,959.7L1472.3,965.1L1474.3,970.6L1476.3,976.2L1478.3,981.8L1480.3,987.5" stroke="#7131A3" stroke-width="3.8"/>
<path d="M70.3,642.9L72.3,644.7L74.3,646.5L76.3,648.3L78.3,650.0L80.3,651.6L82.3,653.3L84.3,654.9L86.3,656.4L88.3,657.9L90.3,659.4L92.3,660.8L94.3,662.2L96.3,663.5L98.3,664.8L100.3,666.1L102.3,667.4L104.3,668.6L106.3,669.7L108.3,670.9L110.3,672.0L112.3,673.0L114.3,674.1L116.3,675.1L118.3,676.0L120.3,677.0L122.3,677.9L124.3,678.8L126.3,679.6L128.3,680.4L130.3,681.2L132.3,682.0L134.3,682.7L136.3,683.4L138.3,684.1L140.3,684.7L142.3,685.3L144.3,685.9L146.3,686.5L148.3,687.0L150.3,687.5L152.3,688.0L154.3,688.5L156.3,688.9L158.3,689.3L160.3,689.7L162.3,690.1L164.3,690.5L166.3,690.8L168.3,691.1L170.3,691.4L172.3,691.6L174.3,691.9L176.3,692.1L178.3,692.3L180.3,692.5L182.3,692.7L184.3,692.8L186.3,692.9L188.3,693.0L190.3,693.1L192.3,693.2L194.3,693.3L196.3,693.3L198.3,693.3L200.3,693.3L202.3,693.3L204.3,693.3L206.3,693.3L208.3,693.2L210.3,693.1L212.3,693.1L214.3,693.0L216.3,692.9L218.3,692.7L220.3,692.6L222.3,692.4L224.3,692.3L226.3,692.1L228.3,691.9L230.3,691.7L232.3,691.5L234.3,691.3L236.3,691.1L238.3,690.8L240.3,690.6L242.3,690.3L244.3,690.0L246.3,689.7L248.3,689.4L250.3,689.1L252.3,688.8L254.3,688.5L256.3,688.2L258.3,687.8L260.3,687.5L262.3,687.1L264.3,686.8L266.3,686.4L268.3,686.0L270.3,685.7L272.3,685.3L274.3,684.9L276.3,684.5L278.3,684.0L280.3,683.6L282.3,683.2L284.3,682.8L286.3,682.3L288.3,681.9L290.3,681.5L292.3,681.0L294.3,680.5L296.3,680.1L298.3,679.6L300.3,679.2L302.3,678.7L304.3,678.2L306.3,677.7L308.3,677.2L310.3,676.7L312.3,676.2L314.3,675.7L316.3,675.2L318.3,674.7L320.3,674.2L322.3,673.7L324.3,673.2L326.3,672.7L328.3,672.2L330.3,671.7L332.3,671.1L334.3,670.6L336.3,670.1L338.3,669.6L340.3,669.0L342.3,668.5L344.3,668.0L346.3,667.4L348.3,666.9L350.3,666.4L352.3,665.8L354.3,665.3L356.3,664.7L358.3,664.2L360.3,663.7L362.3,663.1L364.3,662.6L366.3,662.0L368.3,661.5L370.3,661.0L372.3,660.4L374.3,659.9L376.3,659.3L378.3,658.8L380.3,658.2L382.3,657.7L384.3,657.2L386.3,656.6L388.3,656.1L390.3,655.5L392.3,655.0L394.3,654.5L396.3,653.9L398.3,653.4L400.3,652.8L402.3,652.3L404.3,651.8L406.3,651.2L408.3,650.7L410.3,650.2L412.3,649.6L414.3,649.1L416.3,648.6L418.3,648.1L420.3,647.5L422.3,647.0L424.3,646.5L426.3,646.0L428.3,645.5L430.3,644.9L432.3,644.4L434.3,643.9L436.3,643.4L438.3,642.9L440.3,642.4L442.3,641.9L444.3,641.4L446.3,640.9L448.3,640.4L450.3,639.9L452.3,639.4L454.3,638.9L456.3,638.4L458.3,637.9L460.3,637.4L462.3,636.9L464.3,636.4L466.3,636.0L468.3,635.5L470.3,635.0L472.3,634.5L474.3,634.1L476.3,633.6L478.3,633.1L480.3,632.7L482.3,632.2L484.3,631.7L486.3,631.3L488.3,630.8L490.3,630.4L492.3,629.9L494.3,629.5L496.3,629.0L498.3,628.6L500.3,628.1L502.3,627.7L504.3,627.3L506.3,626.8L508.3,626.4L510.3,626.0L512.3,625.6L514.3,625.1L516.3,624.7L518.3,624.3L520.3,623.9L522.3,623.5L524.3,623.0L526.3,622.6L528.3,622.2L530.3,621.8L532.3,621.4L534.3,621.0L536.3,620.6L538.3,620.2L540.3,619.8L542.3,619.5L544.3,619.1L546.3,618.7L548.3,618.3L550.3,617.9L552.3,617.5L554.3,617.2L556.3,616.8L558.3,616.4L560.3,616.1L562.3,615.7L564.3,615.3L566.3,615.0L568.3,614.6L570.3,614.2L572.3,613.9L574.3,613.5L576.3,613.2L578.3,612.8L580.3,612.5L582.3,612.1L584.3,611.8L586.3,611.5L588.3,611.1L590.3,610.8L592.3,610.5L594.3,610.1L596.3,609.8L598.3,609.5L600.3,609.2L602.3,608.8L604.3,608.5L606.3,608.2L608.3,607.9L610.3,607.6L612.3,607.2L614.3,606.9L616.3,606.6L618.3,606.3L620.3,606.0L622.3,605.7L624.3,605.4L626.3,605.1L628.3,604.8L630.3,604.5L632.3,604.2L634.3,603.9L636.3,603.6L638.3,603.3L640.3,603.1L642.3,602.8L644.3,602.5L646.3,602.2L648.3,601.9L650.3,601.6L652.3,601.4L654.3,601.1L656.3,600.8L658.3,600.5L660.3,600.3L662.3,600.0L664.3,599.7L666.3,599.5L668.3,599.2L670.3,598.9L672.3,598.7L674.3,598.4L676.3,598.2L678.3,597.9L680.3,597.6L682.3,597.4L684.3,597.1L686.3,596.9L688.3,596.6L690.3,596.4L692.3,596.1L694.3,595.9L696.3,595.6L698.3,595.4L700.3,595.1L702.3,594.9L704.3,594.7L706.3,594.4L708.3,594.2L710.3,593.9L712.3,593.7L714.3,593.5L716.3,593.2L718.3,593.0L720.3,592.8L722.3,592.5L724.3,592.3L726.3,592.1L728.3,591.9L730.3,591.6L732.3,591.4L734.3,591.2L736.3,591.0L738.3,590.7L740.3,590.5L742.3,590.3L744.3,590.1L746.3,589.9L748.3,589.6L750.3,589.4L752.3,589.2L754.3,589.0L756.3,588.8L758.3,588.6L760.3,588.4L762.3,588.1L764.3,587.9L766.3,587.7L768.3,587.5L770.3,587.3L772.3,587.1L774.3,586.9L776.3,586.7L778.3,586.5L780.3,586.3L782.3,586.1L784.3,585.9L786.3,585.7L788.3,585.5L790.3,585.3L792.3,585.1L794.3,584.9L796.3,584.7L798.3,584.5L800.3,584.4L802.3,584.2L804.3,584.0L806.3,583.8L808.3,583.6L810.3,583.4L812.3,583.2L814.3,583.1L816.3,582.9L818.3,582.7L820.3,582.5L822.3,582.3L824.3,582.2L826.3,582.0L828.3,581.8L830.3,581.6L832.3,581.5L834.3,581.3L836.3,581.1L838.3,581.0L840.3,580.8L842.3,580.6L844.3,580.5L846.3,580.3L848.3,580.2L850.3,580.0L852.3,579.8L854.3,579.7L856.3,579.5L858.3,579.4L860.3,579.2L862.3,579.1L864.3,578.9L866.3,578.8L868.3,578.6L870.3,578.5L872.3,578.4L874.3,578.2L876.3,578.1L878.3,577.9L880.3,577.8L882.3,577.7L884.3,577.5L886.3,577.4L888.3,577.3L890.3,577.2L892.3,577.0L894.3,576.9L896.3,576.8L898.3,576.7L900.3,576.6L902.3,576.5L904.3,576.4L906.3,576.3L908.3,576.2L910.3,576.1L912.3,576.0L914.3,575.9L916.3,575.8L918.3,575.7L920.3,575.6L922.3,575.5L924.3,575.4L926.3,575.3L928.3,575.3L930.3,575.2L932.3,575.1L934.3,575.0L936.3,575.0L938.3,574.9L940.3,574.9L942.3,574.8L944.3,574.7L946.3,574.7L948.3,574.7L950.3,574.6L952.3,574.6L954.3,574.5L956.3,574.5L958.3,574.5L960.3,574.4L962.3,574.4L964.3,574.4L966.3,574.4L968.3,574.4L970.3,574.4L972.3,574.4L974.3,574.4L976.3,574.4L978.3,574.4L980.3,574.4L982.3,574.4L984.3,574.4L986.3,574.5L988.3,574.5L990.3,574.5L992.3,574.6L994.3,574.6L996.3,574.7L998.3,574.7L1000.3,574.8L1002.3,574.8L1004.3,574.9L1006.3,575.0L1008.3,575.1L1010.3,575.1L1012.3,575.2L1014.3,575.3L1016.3,575.4L1018.3,575.5L1020.3,575.6L1022.3,575.8L1024.3,575.9L1026.3,576.0L1028.3,576.1L1030.3,576.3L1032.3,576.4L1034.3,576.6L1036.3,576.7L1038.3,576.9L1040.3,577.1L1042.3,577.3L1044.3,577.4L1046.3,577.6L1048.3,577.8L1050.3,578.0L1052.3,578.2L1054.3,578.5L1056.3,578.7L1058.3,578.9L1060.3,579.1L1062.3,579.4L1064.3,579.6L1066.3,579.9L1068.3,580.2L1070.3,580.4L1072.3,580.7L1074.3,581.0L1076.3,581.3L1078.3,581.6L1080.3,581.9L1082.3,582.2L1084.3,582.6L1086.3,582.9L1088.3,583.3L1090.3,583.6L1092.3,584.0L1094.3,584.3L1096.3,584.7L1098.3,585.1L1100.3,585.5L1102.3,585.9L1104.3,586.3L1106.3,586.7L1108.3,587.2L1110.3,587.6L1112.3,588.1L1114.3,588.5L1116.3,589.0L1118.3,589.5L1120.3,590.0L1122.3,590.4L1124.3,591.0L1126.3,591.5L1128.3,592.0L1130.3,592.5L1132.3,593.1L1134.3,593.6L1136.3,594.2L1138.3,594.8L1140.3,595.4L1142.3,596.0L1144.3,596.6L1146.3,597.2L1148.3,597.8L1150.3,598.5L1152.3,599.1L1154.3,599.8L1156.3,600.5L1158.3,601.1L1160.3,601.8L1162.3,602.6L1164.3,603.3L1166.3,604.0L1168.3,604.8L1170.3,605.5L1172.3,606.3L1174.3,607.1L1176.3,607.8L1178.3,608.7L1180.3,609.5L1182.3,610.3L1184.3,611.1L1186.3,612.0L1188.3,612.9L1190.3,613.7L1192.3,614.6L1194.3,615.5L1196.3,616.4L1198.3,617.4L1200.3,618.3L1202.3,619.3L1204.3,620.3L1206.3,621.2L1208.3,622.2L1210.3,623.2L1212.3,624.3L1214.3,625.3L1216.3,626.4L1218.3,627.4L1220.3,628.5L1222.3,629.6L1224.3,630.7L1226.3,631.8L1228.3,633.0L1230.3,634.1L1232.3,635.3L1234.3,636.5L1236.3,637.7L1238.3,638.9L1240.3,640.1L1242.3,641.3L1244.3,642.6L1246.3,643.9L1248.3,645.1L1250.3,646.4L1252.3,647.8L1254.3,649.1L1256.3,650.4L1258.3,651.8L1260.3,653.2L1262.3,654.6L1264.3,656.0L1266.3,657.4L1268.3,658.8L1270.3,660.3L1272.3,661.8L1274.3,663.3L1276.3,664.8L1278.3,666.3L1280.3,667.8L1282.3,669.4L1284.3,671.0L1286.3,672.5L1288.3,674.1L1290.3,675.8L1292.3,677.4L1294.3,679.1L1296.3,680.7L1298.3,682.4L1300.3,684.1L1302.3,685.9L1304.3,687.6L1306.3,689.4L1308.3,691.1L1310.3,692.9L1312.3,694.7L1314.3,696.6L1316.3,698.4L1318.3,700.3L1320.3,702.1L1322.3,704.0L1324.3,706.0L1326.3,707.9L1328.3,709.8L1330.3,711.8L1332.3,713.8L1334.3,715.8L1336.3,717.8L1338.3,719.9L1340.3,721.9L1342.3,724.0L1344.3,726.1L1346.3,728.2L1348.3,730.3L1350.3,732.5L1352.3,734.7L1354.3,736.8L1356.3,739.1L1358.3,741.3L1360.3,743.5L1362.3,745.8L1364.3,748.1L1366.3,750.4L1368.3,752.7L1370.3,755.0L1372.3,757.4L1374.3,759.7L1376.3,762.1L1378.3,764.5L1380.3,767.0L1382.3,769.4L1384.3,771.9L1386.3,774.4L1388.3,776.9L1390.3,779.4L1392.3,781.9L1394.3,784.5L1396.3,787.1L1398.3,789.7L1400.3,792.3L1402.3,794.9L1404.3,797.6L1406.3,800.3L1408.3,803.0L1410.3,805.7L1412.3,808.4L1414.3,811.2L1416.3,813.9L1418.3,816.7L1420.3,819.5L1422.3,822.4L1424.3,825.2L1426.3,828.1L1428.3,830.9L1430.3,833.8L1432.3,836.8L1434.3,839.7L1436.3,842.7L1438.3,845.6L1440.3,848.6L1442.3,851.6L1444.3,854.7L1446.3,857.7L1448.3,860.8L1450.3,863.9L1452.3,867.0L1454.3,870.1L1456.3,873.3L1458.3,876.4L1460.3,879.6L1462.3,882.8L1464.3,886.0L1466.3,889.2L1468.3,892.5L1470.3,895.8L1472.3,899.0L1474.3,902.3L1476.3,905.7L1478.3,909.0L1480.3,912.4L1482.3,915.7L1484.3,919.1L1486.3,922.5L1488.3,926.0L1490.3,929.4L1492.3,932.9L1494.3,936.3L1496.3,939.8L1498.3,943.4L1500.3,946.9L1502.3,950.4L1504.3,954.0L1506.3,957.6L1508.3,961.2L1510.3,964.8L1512.3,968.4L1514.3,972.0L1516.3,975.7L1518.3,979.4L1520.3,983.1L1522.3,986.8L1524.3,990.5" stroke="#F20808" stroke-width="4.2"/>
<path d="M70.3,521.5L72.3,529.4L74.3,537.2L76.3,544.7L78.3,552.1L80.3,559.2L82.3,566.2L84.3,573.1L86.3,579.7L88.3,586.2L90.3,592.5L92.3,598.6L94.3,604.5L96.3,610.3L98.3,616.0L100.3,621.5L102.3,626.8L104.3,631.9L106.3,636.9L108.3,641.8L110.3,646.5L112.3,651.1L114.3,655.5L116.3,659.8L118.3,663.9L120.3,667.9L122.3,671.8L124.3,675.5L126.3,679.1L128.3,682.6L130.3,685.9L132.3,689.1L134.3,692.2L136.3,695.2L138.3,698.0L140.3,700.8L142.3,703.4L144.3,705.9L146.3,708.3L148.3,710.6L150.3,712.7L152.3,714.8L154.3,716.7L156.3,718.6L158.3,720.3L160.3,722.0L162.3,723.5L164.3,725.0L166.3,726.4L168.3,727.6L170.3,728.8L172.3,729.9L174.3,730.9L176.3,731.8L178.3,732.6L180.3,733.4L182.3,734.0L184.3,734.6L186.3,735.1L188.3,735.5L190.3,735.9L192.3,736.1L194.3,736.3L196.3,736.5L198.3,736.5L200.3,736.5L202.3,736.4L204.3,736.3L206.3,736.1L208.3,735.8L210.3,735.5L212.3,735.1L214.3,734.6L216.3,734.1L218.3,733.6L220.3,732.9L222.3,732.3L224.3,731.5L226.3,730.8L228.3,729.9L230.3,729.1L232.3,728.1L234.3,727.2L236.3,726.1L238.3,725.1L240.3,724.0L242.3,722.8L244.3,721.6L246.3,720.4L248.3,719.2L250.3,717.9L252.3,716.5L254.3,715.1L256.3,713.7L258.3,712.3L260.3,710.8L262.3,709.3L264.3,707.8L266.3,706.2L268.3,704.6L270.3,703.0L272.3,701.4L274.3,699.7L276.3,698.0L278.3,696.3L280.3,694.5L282.3,692.8L284.3,691.0L286.3,689.2L288.3,687.4L290.3,685.5L292.3,683.7L294.3,681.8L296.3,679.9L298.3,678.0L300.3,676.1L302.3,674.2L304.3,672.2L306.3,670.3L308.3,668.3L310.3,666.3L312.3,664.4L314.3,662.4L316.3,660.4L318.3,658.4L320.3,656.3L322.3,654.3L324.3,652.3L326.3,650.3L328.3,648.2L330.3,646.2L332.3,644.1L334.3,642.1L336.3,640.1L338.3,638.0L340.3,636.0L342.3,633.9L344.3,631.9L346.3,629.8L348.3,627.8L350.3,625.7L352.3,623.7L354.3,621.7L356.3,619.6L358.3,617.6L360.3,615.6L362.3,613.6L364.3,611.6L366.3,609.6L368.3,607.6L370.3,605.6L372.3,603.6L374.3,601.7L376.3,599.7L378.3,597.8L380.3,595.8L382.3,593.9L384.3,592.0L386.3,590.0L388.3,588.1L390.3,586.3L392.3,584.4L394.3,582.5L396.3,580.7L398.3,578.8L400.3,577.0L402.3,575.2L404.3,573.4L406.3,571.6L408.3,569.9L410.3,568.1L412.3,566.4L414.3,564.6L416.3,562.9L418.3,561.2L420.3,559.6L422.3,557.9L424.3,556.3L426.3,554.6L428.3,553.0L430.3,551.4L432.3,549.9L434.3,548.3L436.3,546.8L438.3,545.3L440.3,543.8L442.3,542.3L444.3,540.8L446.3,539.4L448.3,538.0L450.3,536.6L452.3,535.2L454.3,533.8L456.3,532.5L458.3,531.1L460.3,529.8L462.3,528.5L464.3,527.3L466.3,526.0L468.3,524.8L470.3,523.6L472.3,522.4L474.3,521.3L476.3,520.1L478.3,519.0L480.3,517.9L482.3,516.8L484.3,515.8L486.3,514.7L488.3,513.7L490.3,512.7L492.3,511.8L494.3,510.8L496.3,509.9L498.3,509.0L500.3,508.1L502.3,507.2L504.3,506.4L506.3,505.6L508.3,504.8L510.3,504.0L512.3,503.2L514.3,502.5L516.3,501.8L518.3,501.1L520.3,500.4L522.3,499.8L524.3,499.2L526.3,498.6L528.3,498.0L530.3,497.4L532.3,496.9L534.3,496.4L536.3,495.9L538.3,495.4L540.3,494.9L542.3,494.5L544.3,494.1L546.3,493.7L548.3,493.3L550.3,493.0L552.3,492.6L554.3,492.3L556.3,492.0L558.3,491.7L560.3,491.5L562.3,491.3L564.3,491.1L566.3,490.9L568.3,490.7L570.3,490.6L572.3,490.4L574.3,490.3L576.3,490.2L578.3,490.1L580.3,490.1L582.3,490.1L584.3,490.0L586.3,490.0L588.3,490.1L590.3,490.1L592.3,490.2L594.3,490.2L596.3,490.3L598.3,490.5L600.3,490.6L602.3,490.7L604.3,490.9L606.3,491.1L608.3,491.3L610.3,491.5L612.3,491.7L614.3,492.0L616.3,492.3L618.3,492.5L620.3,492.8L622.3,493.2L624.3,493.5L626.3,493.8L628.3,494.2L630.3,494.6L632.3,495.0L634.3,495.4L636.3,495.8L638.3,496.2L640.3,496.7L642.3,497.1L644.3,497.6L646.3,498.1L648.3,498.6L650.3,499.1L652.3,499.7L654.3,500.2L656.3,500.8L658.3,501.3L660.3,501.9L662.3,502.5L664.3,503.1L666.3,503.7L668.3,504.4L670.3,505.0L672.3,505.7L674.3,506.3L676.3,507.0L678.3,507.7L680.3,508.4L682.3,509.1L684.3,509.8L686.3,510.5L688.3,511.2L690.3,512.0L692.3,512.7L694.3,513.5L696.3,514.3L698.3,515.0L700.3,515.8L702.3,516.6L704.3,517.4L706.3,518.2L708.3,519.0L710.3,519.8L712.3,520.7L714.3,521.5L716.3,522.3L718.3,523.2L720.3,524.0L722.3,524.9L724.3,525.8L726.3,526.6L728.3,527.5L730.3,528.4L732.3,529.3L734.3,530.2L736.3,531.1L738.3,531.9L740.3,532.8L742.3,533.8L744.3,534.7L746.3,535.6L748.3,536.5L750.3,537.4L752.3,538.3L754.3,539.2L756.3,540.2L758.3,541.1L760.3,542.0L762.3,542.9L764.3,543.9L766.3,544.8L768.3,545.7L770.3,546.7L772.3,547.6L774.3,548.5L776.3,549.5L778.3,550.4L780.3,551.3L782.3,552.2L784.3,553.2L786.3,554.1L788.3,555.0L790.3,556.0L792.3,556.9L794.3,557.8L796.3,558.7L798.3,559.7L800.3,560.6L802.3,561.5L804.3,562.4L806.3,563.3L808.3,564.2L810.3,565.1L812.3,566.0L814.3,566.9L816.3,567.8L818.3,568.7L820.3,569.6L822.3,570.5L824.3,571.3L826.3,572.2L828.3,573.1L830.3,573.9L832.3,574.8L834.3,575.7L836.3,576.5L838.3,577.3L840.3,578.2L842.3,579.0L844.3,579.8L846.3,580.7L848.3,581.5L850.3,582.3L852.3,583.1L854.3,583.9L856.3,584.7L858.3,585.4L860.3,586.2L862.3,587.0L864.3,587.7L866.3,588.5L868.3,589.2L870.3,590.0L872.3,590.7L874.3,591.4L876.3,592.1L878.3,592.8L880.3,593.5L882.3,594.2L884.3,594.9L886.3,595.6L888.3,596.2L890.3,596.9L892.3,597.5L894.3,598.2L896.3,598.8L898.3,599.4L900.3,600.0L902.3,600.6L904.3,601.2L906.3,601.8L908.3,602.4L910.3,602.9L912.3,603.5L914.3,604.0L916.3,604.5L918.3,605.1L920.3,605.6L922.3,606.1L924.3,606.6L926.3,607.1L928.3,607.6L930.3,608.0L932.3,608.5L934.3,608.9L936.3,609.4L938.3,609.8L940.3,610.2L942.3,610.6L944.3,611.0L946.3,611.4L948.3,611.8L950.3,612.1L952.3,612.5L954.3,612.8L956.3,613.2L958.3,613.5L960.3,613.8L962.3,614.1L964.3,614.4L966.3,614.7L968.3,615.0L970.3,615.2L972.3,615.5L974.3,615.7L976.3,616.0L978.3,616.2L980.3,616.4L982.3,616.6L984.3,616.8L986.3,617.0L988.3,617.2L990.3,617.3L992.3,617.5L994.3,617.6L996.3,617.8L998.3,617.9L1000.3,618.0L1002.3,618.1L1004.3,618.2L1006.3,618.3L1008.3,618.4L1010.3,618.5L1012.3,618.6L1014.3,618.6L1016.3,618.7L1018.3,618.7L1020.3,618.8L1022.3,618.8L1024.3,618.8L1026.3,618.8L1028.3,618.8L1030.3,618.8L1032.3,618.8L1034.3,618.8L1036.3,618.8L1038.3,618.7L1040.3,618.7L1042.3,618.6L1044.3,618.6L1046.3,618.5L1048.3,618.5L1050.3,618.4L1052.3,618.3L1054.3,618.2L1056.3,618.1L1058.3,618.0L1060.3,617.9L1062.3,617.8L1064.3,617.7L1066.3,617.6L1068.3,617.5L1070.3,617.4L1072.3,617.3L1074.3,617.1L1076.3,617.0L1078.3,616.9L1080.3,616.7L1082.3,616.6L1084.3,616.5L1086.3,616.3L1088.3,616.2L1090.3,616.0L1092.3,615.9L1094.3,615.7L1096.3,615.6L1098.3,615.4L1100.3,615.3L1102.3,615.1L1104.3,615.0L1106.3,614.8L1108.3,614.7L1110.3,614.5L1112.3,614.4L1114.3,614.2L1116.3,614.1L1118.3,613.9L1120.3,613.8L1122.3,613.7L1124.3,613.5L1126.3,613.4L1128.3,613.3L1130.3,613.2L1132.3,613.1L1134.3,612.9L1136.3,612.8L1138.3,612.7L1140.3,612.6L1142.3,612.6L1144.3,612.5L1146.3,612.4L1148.3,612.3L1150.3,612.3L1152.3,612.2L1154.3,612.2L1156.3,612.2L1158.3,612.1L1160.3,612.1L1162.3,612.1L1164.3,612.1L1166.3,612.2L1168.3,612.2L1170.3,612.2L1172.3,612.3L1174.3,612.4L1176.3,612.4L1178.3,612.5L1180.3,612.6L1182.3,612.8L1184.3,612.9L1186.3,613.1L1188.3,613.2L1190.3,613.4L1192.3,613.6L1194.3,613.8L1196.3,614.1L1198.3,614.3L1200.3,614.6L1202.3,614.9L1204.3,615.2L1206.3,615.6L1208.3,615.9L1210.3,616.3L1212.3,616.7L1214.3,617.1L1216.3,617.6L1218.3,618.0L1220.3,618.5L1222.3,619.0L1224.3,619.6L1226.3,620.1L1228.3,620.7L1230.3,621.4L1232.3,622.0L1234.3,622.7L1236.3,623.4L1238.3,624.1L1240.3,624.9L1242.3,625.7L1244.3,626.5L1246.3,627.3L1248.3,628.2L1250.3,629.1L1252.3,630.1L1254.3,631.0L1256.3,632.1L1258.3,633.1L1260.3,634.2L1262.3,635.3L1264.3,636.5L1266.3,637.7L1268.3,638.9L1270.3,640.2L1272.3,641.5L1274.3,642.8L1276.3,644.2L1278.3,645.6L1280.3,647.1L1282.3,648.6L1284.3,650.2L1286.3,651.8L1288.3,653.4L1290.3,655.1L1292.3,656.8L1294.3,658.6L1296.3,660.5L1298.3,662.3L1300.3,664.3L1302.3,666.2L1304.3,668.2L1306.3,670.3L1308.3,672.4L1310.3,674.6L1312.3,676.8L1314.3,679.1L1316.3,681.5L1318.3,683.8L1320.3,686.3L1322.3,688.8L1324.3,691.3L1326.3,694.0L1328.3,696.6L1330.3,699.4L1332.3,702.2L1334.3,705.0L1336.3,707.9L1338.3,710.9L1340.3,713.9L1342.3,717.0L1344.3,720.2L1346.3,723.4L1348.3,726.7L1350.3,730.1L1352.3,733.5L1354.3,737.0L1356.3,740.6L1358.3,744.2L1360.3,747.9L1362.3,751.7L1364.3,755.6L1366.3,759.5L1368.3,763.5L1370.3,767.6L1372.3,771.7L1374.3,776.0L1376.3,780.3L1378.3,784.6L1380.3,789.1L1382.3,793.6L1384.3,798.3L1386.3,803.0L1388.3,807.8L1390.3,812.6L1392.3,817.6L1394.3,822.6L1396.3,827.7L1398.3,832.9L1400.3,838.2L1402.3,843.6L1404.3,849.1L1406.3,854.7L1408.3,860.3L1410.3,866.1L1412.3,871.9L1414.3,877.8L1416.3,883.9L1418.3,890.0L1420.3,896.2L1422.3,902.5L1424.3,908.9L1426.3,915.5L1428.3,922.1L1430.3,928.8L1432.3,935.6L1434.3,942.5L1436.3,949.5L1438.3,956.7L1440.3,963.9L1442.3,971.2L1444.3,978.7L1446.3,986.2" stroke="#FFFF00" stroke-width="4.8"/>
<path d="M70.3,620.2L72.3,622.8L74.3,625.3L76.3,627.7L78.3,630.1L80.3,632.5L82.3,634.8L84.3,637.0L86.3,639.2L88.3,641.4L90.3,643.5L92.3,645.5L94.3,647.6L96.3,649.5L98.3,651.5L100.3,653.3L102.3,655.2L104.3,657.0L106.3,658.7L108.3,660.4L110.3,662.1L112.3,663.7L114.3,665.3L116.3,666.9L118.3,668.4L120.3,669.8L122.3,671.3L124.3,672.7L126.3,674.0L128.3,675.3L130.3,676.6L132.3,677.9L134.3,679.1L136.3,680.3L138.3,681.4L140.3,682.5L142.3,683.6L144.3,684.6L146.3,685.6L148.3,686.6L150.3,687.6L152.3,688.5L154.3,689.4L156.3,690.2L158.3,691.0L160.3,691.8L162.3,692.6L164.3,693.3L166.3,694.0L168.3,694.7L170.3,695.4L172.3,696.0L174.3,696.6L176.3,697.2L178.3,697.7L180.3,698.2L182.3,698.7L184.3,699.2L186.3,699.6L188.3,700.0L190.3,700.4L192.3,700.8L194.3,701.2L196.3,701.5L198.3,701.8L200.3,702.1L202.3,702.4L204.3,702.6L206.3,702.8L208.3,703.0L210.3,703.2L212.3,703.4L214.3,703.5L216.3,703.6L218.3,703.7L220.3,703.8L222.3,703.9L224.3,703.9L226.3,704.0L228.3,704.0L230.3,704.0L232.3,704.0L234.3,703.9L236.3,703.9L238.3,703.8L240.3,703.7L242.3,703.6L244.3,703.5L246.3,703.4L248.3,703.2L250.3,703.1L252.3,702.9L254.3,702.7L256.3,702.5L258.3,702.3L260.3,702.1L262.3,701.9L264.3,701.6L266.3,701.4L268.3,701.1L270.3,700.8L272.3,700.5L274.3,700.2L276.3,699.9L278.3,699.6L280.3,699.3L282.3,698.9L284.3,698.6L286.3,698.2L288.3,697.8L290.3,697.4L292.3,697.0L294.3,696.6L296.3,696.2L298.3,695.8L300.3,695.4L302.3,695.0L304.3,694.5L306.3,694.1L308.3,693.6L310.3,693.1L312.3,692.7L314.3,692.2L316.3,691.7L318.3,691.2L320.3,690.7L322.3,690.2L324.3,689.7L326.3,689.2L328.3,688.7L330.3,688.2L332.3,687.6L334.3,687.1L336.3,686.6L338.3,686.0L340.3,685.5L342.3,684.9L344.3,684.3L346.3,683.8L348.3,683.2L350.3,682.6L352.3,682.1L354.3,681.5L356.3,680.9L358.3,680.3L360.3,679.7L362.3,679.2L364.3,678.6L366.3,678.0L368.3,677.4L370.3,676.8L372.3,676.2L374.3,675.6L376.3,675.0L378.3,674.3L380.3,673.7L382.3,673.1L384.3,672.5L386.3,671.9L388.3,671.3L390.3,670.6L392.3,670.0L394.3,669.4L396.3,668.8L398.3,668.2L400.3,667.5L402.3,666.9L404.3,666.3L406.3,665.7L408.3,665.0L410.3,664.4L412.3,663.8L414.3,663.1L416.3,662.5L418.3,661.9L420.3,661.3L422.3,660.6L424.3,660.0L426.3,659.4L428.3,658.7L430.3,658.1L432.3,657.5L434.3,656.9L436.3,656.2L438.3,655.6L440.3,655.0L442.3,654.4L444.3,653.7L446.3,653.1L448.3,652.5L450.3,651.9L452.3,651.2L454.3,650.6L456.3,650.0L458.3,649.4L460.3,648.8L462.3,648.2L464.3,647.6L466.3,646.9L468.3,646.3L470.3,645.7L472.3,645.1L474.3,644.5L476.3,643.9L478.3,643.3L480.3,642.7L482.3,642.1L484.3,641.5L486.3,640.9L488.3,640.3L490.3,639.7L492.3,639.1L494.3,638.6L496.3,638.0L498.3,637.4L500.3,636.8L502.3,636.2L504.3,635.6L506.3,635.1L508.3,634.5L510.3,633.9L512.3,633.4L514.3,632.8L516.3,632.2L518.3,631.7L520.3,631.1L522.3,630.5L524.3,630.0L526.3,629.4L528.3,628.9L530.3,628.3L532.3,627.8L534.3,627.2L536.3,626.7L538.3,626.1L540.3,625.6L542.3,625.1L544.3,624.5L546.3,624.0L548.3,623.5L550.3,623.0L552.3,622.4L554.3,621.9L556.3,621.4L558.3,620.9L560.3,620.3L562.3,619.8L564.3,619.3L566.3,618.8L568.3,618.3L570.3,617.8L572.3,617.3L574.3,616.8L576.3,616.3L578.3,615.8L580.3,615.3L582.3,614.8L584.3,614.3L586.3,613.8L588.3,613.4L590.3,612.9L592.3,612.4L594.3,611.9L596.3,611.4L598.3,611.0L600.3,610.5L602.3,610.0L604.3,609.6L606.3,609.1L608.3,608.6L610.3,608.2L612.3,607.7L614.3,607.3L616.3,606.8L618.3,606.4L620.3,605.9L622.3,605.5L624.3,605.0L626.3,604.6L628.3,604.1L630.3,603.7L632.3,603.3L634.3,602.8L636.3,602.4L638.3,601.9L640.3,601.5L642.3,601.1L644.3,600.7L646.3,600.2L648.3,599.8L650.3,599.4L652.3,599.0L654.3,598.6L656.3,598.1L658.3,597.7L660.3,597.3L662.3,596.9L664.3,596.5L666.3,596.1L668.3,595.7L670.3,595.3L672.3,594.9L674.3,594.5L676.3,594.1L678.3,593.7L680.3,593.3L682.3,592.9L684.3,592.5L686.3,592.1L688.3,591.7L690.3,591.3L692.3,590.9L694.3,590.5L696.3,590.1L698.3,589.8L700.3,589.4L702.3,589.0L704.3,588.6L706.3,588.2L708.3,587.9L710.3,587.5L712.3,587.1L714.3,586.7L716.3,586.4L718.3,586.0L720.3,585.6L722.3,585.3L724.3,584.9L726.3,584.5L728.3,584.2L730.3,583.8L732.3,583.4L734.3,583.1L736.3,582.7L738.3,582.3L740.3,582.0L742.3,581.6L744.3,581.3L746.3,580.9L748.3,580.5L750.3,580.2L752.3,579.8L754.3,579.5L756.3,579.1L758.3,578.8L760.3,578.4L762.3,578.1L764.3,577.7L766.3,577.4L768.3,577.0L770.3,576.7L772.3,576.3L774.3,576.0L776.3,575.7L778.3,575.3L780.3,575.0L782.3,574.6L784.3,574.3L786.3,574.0L788.3,573.6L790.3,573.3L792.3,572.9L794.3,572.6L796.3,572.3L798.3,571.9L800.3,571.6L802.3,571.3L804.3,570.9L806.3,570.6L808.3,570.3L810.3,569.9L812.3,569.6L814.3,569.3L816.3,569.0L818.3,568.6L820.3,568.3L822.3,568.0L824.3,567.7L826.3,567.3L828.3,567.0L830.3,566.7L832.3,566.4L834.3,566.0L836.3,565.7L838.3,565.4L840.3,565.1L842.3,564.8L844.3,564.5L846.3,564.2L848.3,563.8L850.3,563.5L852.3,563.2L854.3,562.9L856.3,562.6L858.3,562.3L860.3,562.0L862.3,561.7L864.3,561.4L866.3,561.1L868.3,560.8L870.3,560.5L872.3,560.2L874.3,559.9L876.3,559.6L878.3,559.3L880.3,559.0L882.3,558.7L884.3,558.4L886.3,558.1L888.3,557.8L890.3,557.5L892.3,557.3L894.3,557.0L896.3,556.7L898.3,556.4L900.3,556.1L902.3,555.9L904.3,555.6L906.3,555.3L908.3,555.0L910.3,554.8L912.3,554.5L914.3,554.2L916.3,554.0L918.3,553.7L920.3,553.5L922.3,553.2L924.3,553.0L926.3,552.7L928.3,552.5L930.3,552.2L932.3,552.0L934.3,551.7L936.3,551.5L938.3,551.3L940.3,551.0L942.3,550.8L944.3,550.6L946.3,550.3L948.3,550.1L950.3,549.9L952.3,549.7L954.3,549.5L956.3,549.3L958.3,549.1L960.3,548.9L962.3,548.7L964.3,548.5L966.3,548.3L968.3,548.1L970.3,547.9L972.3,547.7L974.3,547.5L976.3,547.4L978.3,547.2L980.3,547.0L982.3,546.9L984.3,546.7L986.3,546.6L988.3,546.4L990.3,546.3L992.3,546.2L994.3,546.0L996.3,545.9L998.3,545.8L1000.3,545.7L1002.3,545.6L1004.3,545.5L1006.3,545.4L1008.3,545.3L1010.3,545.2L1012.3,545.1L1014.3,545.0L1016.3,544.9L1018.3,544.9L1020.3,544.8L1022.3,544.8L1024.3,544.7L1026.3,544.7L1028.3,544.6L1030.3,544.6L1032.3,544.6L1034.3,544.6L1036.3,544.6L1038.3,544.6L1040.3,544.6L1042.3,544.6L1044.3,544.6L1046.3,544.7L1048.3,544.7L1050.3,544.7L1052.3,544.8L1054.3,544.9L1056.3,544.9L1058.3,545.0L1060.3,545.1L1062.3,545.2L1064.3,545.3L1066.3,545.4L1068.3,545.5L1070.3,545.7L1072.3,545.8L1074.3,546.0L1076.3,546.1L1078.3,546.3L1080.3,546.5L1082.3,546.7L1084.3,546.9L1086.3,547.1L1088.3,547.3L1090.3,547.6L1092.3,547.8L1094.3,548.1L1096.3,548.3L1098.3,548.6L1100.3,548.9L1102.3,549.2L1104.3,549.5L1106.3,549.9L1108.3,550.2L1110.3,550.5L1112.3,550.9L1114.3,551.3L1116.3,551.7L1118.3,552.1L1120.3,552.5L1122.3,552.9L1124.3,553.4L1126.3,553.8L1128.3,554.3L1130.3,554.8L1132.3,555.3L1134.3,555.8L1136.3,556.4L1138.3,556.9L1140.3,557.5L1142.3,558.0L1144.3,558.6L1146.3,559.2L1148.3,559.9L1150.3,560.5L1152.3,561.2L1154.3,561.8L1156.3,562.5L1158.3,563.2L1160.3,564.0L1162.3,564.7L1164.3,565.5L1166.3,566.2L1168.3,567.0L1170.3,567.9L1172.3,568.7L1174.3,569.5L1176.3,570.4L1178.3,571.3L1180.3,572.2L1182.3,573.2L1184.3,574.1L1186.3,575.1L1188.3,576.1L1190.3,577.1L1192.3,578.1L1194.3,579.2L1196.3,580.2L1198.3,581.3L1200.3,582.5L1202.3,583.6L1204.3,584.8L1206.3,585.9L1208.3,587.1L1210.3,588.4L1212.3,589.6L1214.3,590.9L1216.3,592.2L1218.3,593.5L1220.3,594.9L1222.3,596.3L1224.3,597.7L1226.3,599.1L1228.3,600.5L1230.3,602.0L1232.3,603.5L1234.3,605.0L1236.3,606.6L1238.3,608.2L1240.3,609.8L1242.3,611.4L1244.3,613.1L1246.3,614.8L1248.3,616.5L1250.3,618.2L1252.3,620.0L1254.3,621.8L1256.3,623.7L1258.3,625.5L1260.3,627.4L1262.3,629.3L1264.3,631.3L1266.3,633.3L1268.3,635.3L1270.3,637.4L1272.3,639.4L1274.3,641.5L1276.3,643.7L1278.3,645.9L1280.3,648.1L1282.3,650.3L1284.3,652.6L1286.3,654.9L1288.3,657.2L1290.3,659.6L1292.3,662.0L1294.3,664.5L1296.3,667.0L1298.3,669.5L1300.3,672.0L1302.3,674.6L1304.3,677.3L1306.3,679.9L1308.3,682.6L1310.3,685.4L1312.3,688.1L1314.3,691.0L1316.3,693.8L1318.3,696.7L1320.3,699.6L1322.3,702.6L1324.3,705.6L1326.3,708.6L1328.3,711.6L1330.3,714.7L1332.3,717.9L1334.3,721.0L1336.3,724.2L1338.3,727.5L1340.3,730.8L1342.3,734.1L1344.3,737.5L1346.3,740.9L1348.3,744.4L1350.3,747.9L1352.3,751.4L1354.3,755.0L1356.3,758.6L1358.3,762.3L1360.3,766.0L1362.3,769.8L1364.3,773.6L1366.3,777.4L1368.3,781.3L1370.3,785.2L1372.3,789.2L1374.3,793.2L1376.3,797.3L1378.3,801.4L1380.3,805.6L1382.3,809.9L1384.3,814.2L1386.3,818.6L1388.3,823.0L1390.3,827.5L1392.3,832.0L1394.3,836.6L1396.3,841.2L1398.3,845.9L1400.3,850.7L1402.3,855.5L1404.3,860.3L1406.3,865.2L1408.3,870.2L1410.3,875.2L1412.3,880.3L1414.3,885.4L1416.3,890.6L1418.3,895.9L1420.3,901.2L1422.3,906.5L1424.3,911.9L1426.3,917.4L1428.3,923.0L1430.3,928.6L1432.3,934.2L1434.3,939.9L1436.3,945.7L1438.3,951.5L1440.3,957.4L1442.3,963.4L1444.3,969.4L1446.3,975.5L1448.3,981.7L1450.3,987.9" stroke="#0CF20C" stroke-width="4.6"/>
<path d="M70.3,621.8L72.3,624.8L74.3,627.7L76.3,630.6L78.3,633.3L80.3,636.0L82.3,638.6L84.3,641.2L86.3,643.6L88.3,646.0L90.3,648.3L92.3,650.6L94.3,652.8L96.3,654.9L98.3,656.9L100.3,658.9L102.3,660.8L104.3,662.7L106.3,664.5L108.3,666.2L110.3,667.9L112.3,669.5L114.3,671.0L116.3,672.5L118.3,674.0L120.3,675.3L122.3,676.7L124.3,677.9L126.3,679.2L128.3,680.4L130.3,681.5L132.3,682.6L134.3,683.6L136.3,684.6L138.3,685.5L140.3,686.4L142.3,687.3L144.3,688.1L146.3,688.8L148.3,689.6L150.3,690.2L152.3,690.9L154.3,691.5L156.3,692.0L158.3,692.6L160.3,693.1L162.3,693.5L164.3,693.9L166.3,694.3L168.3,694.7L170.3,695.0L172.3,695.3L174.3,695.6L176.3,695.8L178.3,696.0L180.3,696.2L182.3,696.3L184.3,696.4L186.3,696.5L188.3,696.6L190.3,696.6L192.3,696.6L194.3,696.6L196.3,696.6L198.3,696.5L200.3,696.4L202.3,696.3L204.3,696.2L206.3,696.1L208.3,695.9L210.3,695.7L212.3,695.5L214.3,695.3L216.3,695.1L218.3,694.8L220.3,694.5L222.3,694.3L224.3,694.0L226.3,693.6L228.3,693.3L230.3,693.0L232.3,692.6L234.3,692.2L236.3,691.8L238.3,691.4L240.3,691.0L242.3,690.6L244.3,690.2L246.3,689.7L248.3,689.3L250.3,688.8L252.3,688.3L254.3,687.9L256.3,687.4L258.3,686.9L260.3,686.4L262.3,685.8L264.3,685.3L266.3,684.8L268.3,684.3L270.3,683.7L272.3,683.2L274.3,682.6L276.3,682.1L278.3,681.5L280.3,681.0L282.3,680.4L284.3,679.8L286.3,679.2L288.3,678.7L290.3,678.1L292.3,677.5L294.3,676.9L296.3,676.3L298.3,675.7L300.3,675.1L302.3,674.5L304.3,673.9L306.3,673.3L308.3,672.7L310.3,672.1L312.3,671.5L314.3,670.9L316.3,670.3L318.3,669.7L320.3,669.1L322.3,668.5L324.3,667.9L326.3,667.3L328.3,666.8L330.3,666.2L332.3,665.6L334.3,665.0L336.3,664.4L338.3,663.8L340.3,663.2L342.3,662.6L344.3,662.1L346.3,661.5L348.3,660.9L350.3,660.3L352.3,659.8L354.3,659.2L356.3,658.6L358.3,658.1L360.3,657.5L362.3,657.0L364.3,656.4L366.3,655.9L368.3,655.3L370.3,654.8L372.3,654.2L374.3,653.7L376.3,653.2L378.3,652.7L380.3,652.1L382.3,651.6L384.3,651.1L386.3,650.6L388.3,650.1L390.3,649.6L392.3,649.1L394.3,648.6L396.3,648.1L398.3,647.7L400.3,647.2L402.3,646.7L404.3,646.2L406.3,645.8L408.3,645.3L410.3,644.9L412.3,644.4L414.3,644.0L416.3,643.5L418.3,643.1L420.3,642.7L422.3,642.2L424.3,641.8L426.3,641.4L428.3,641.0L430.3,640.6L432.3,640.2L434.3,639.8L436.3,639.4L438.3,639.0L440.3,638.6L442.3,638.2L444.3,637.9L446.3,637.5L448.3,637.1L450.3,636.8L452.3,636.4L454.3,636.1L456.3,635.7L458.3,635.4L460.3,635.0L462.3,634.7L464.3,634.4L466.3,634.0L468.3,633.7L470.3,633.4L472.3,633.1L474.3,632.8L476.3,632.5L478.3,632.2L480.3,631.9L482.3,631.6L484.3,631.3L486.3,631.0L488.3,630.7L490.3,630.4L492.3,630.1L494.3,629.8L496.3,629.6L498.3,629.3L500.3,629.0L502.3,628.8L504.3,628.5L506.3,628.3L508.3,628.0L510.3,627.8L512.3,627.5L514.3,627.3L516.3,627.0L518.3,626.8L520.3,626.5L522.3,626.3L524.3,626.1L526.3,625.8L528.3,625.6L530.3,625.4L532.3,625.1L534.3,624.9L536.3,624.7L538.3,624.5L540.3,624.2L542.3,624.0L544.3,623.8L546.3,623.6L548.3,623.4L550.3,623.2L552.3,623.0L554.3,622.7L556.3,622.5L558.3,622.3L560.3,622.1L562.3,621.9L564.3,621.7L566.3,621.5L568.3,621.3L570.3,621.1L572.3,620.9L574.3,620.7L576.3,620.5L578.3,620.3L580.3,620.1L582.3,619.9L584.3,619.7L586.3,619.4L588.3,619.2L590.3,619.0L592.3,618.8L594.3,618.6L596.3,618.4L598.3,618.2L600.3,618.0L602.3,617.8L604.3,617.6L606.3,617.4L608.3,617.1L610.3,616.9L612.3,616.7L614.3,616.5L616.3,616.3L618.3,616.1L620.3,615.8L622.3,615.6L624.3,615.4L626.3,615.2L628.3,614.9L630.3,614.7L632.3,614.5L634.3,614.2L636.3,614.0L638.3,613.8L640.3,613.5L642.3,613.3L644.3,613.0L646.3,612.8L648.3,612.5L650.3,612.3L652.3,612.0L654.3,611.8L656.3,611.5L658.3,611.2L660.3,611.0L662.3,610.7L664.3,610.4L666.3,610.2L668.3,609.9L670.3,609.6L672.3,609.3L674.3,609.0L676.3,608.7L678.3,608.5L680.3,608.2L682.3,607.9L684.3,607.6L686.3,607.2L688.3,606.9L690.3,606.6L692.3,606.3L694.3,606.0L696.3,605.7L698.3,605.3L700.3,605.0L702.3,604.7L704.3,604.3L706.3,604.0L708.3,603.6L710.3,603.3L712.3,602.9L714.3,602.6L716.3,602.2L718.3,601.8L720.3,601.5L722.3,601.1L724.3,600.7L726.3,600.3L728.3,600.0L730.3,599.6L732.3,599.2L734.3,598.8L736.3,598.4L738.3,598.0L740.3,597.6L742.3,597.2L744.3,596.7L746.3,596.3L748.3,595.9L750.3,595.5L752.3,595.0L754.3,594.6L756.3,594.2L758.3,593.7L760.3,593.3L762.3,592.8L764.3,592.4L766.3,591.9L768.3,591.4L770.3,591.0L772.3,590.5L774.3,590.0L776.3,589.5L778.3,589.0L780.3,588.6L782.3,588.1L784.3,587.6L786.3,587.1L788.3,586.6L790.3,586.1L792.3,585.6L794.3,585.0L796.3,584.5L798.3,584.0L800.3,583.5L802.3,583.0L804.3,582.4L806.3,581.9L808.3,581.4L810.3,580.8L812.3,580.3L814.3,579.7L816.3,579.2L818.3,578.6L820.3,578.1L822.3,577.5L824.3,577.0L826.3,576.4L828.3,575.8L830.3,575.3L832.3,574.7L834.3,574.1L836.3,573.5L838.3,573.0L840.3,572.4L842.3,571.8L844.3,571.2L846.3,570.6L848.3,570.0L850.3,569.4L852.3,568.8L854.3,568.2L856.3,567.7L858.3,567.1L860.3,566.5L862.3,565.8L864.3,565.2L866.3,564.6L868.3,564.0L870.3,563.4L872.3,562.8L874.3,562.2L876.3,561.6L878.3,561.0L880.3,560.4L882.3,559.8L884.3,559.1L886.3,558.5L888.3,557.9L890.3,557.3L892.3,556.7L894.3,556.1L896.3,555.5L898.3,554.8L900.3,554.2L902.3,553.6L904.3,553.0L906.3,552.4L908.3,551.8L910.3,551.2L912.3,550.5L914.3,549.9L916.3,549.3L918.3,548.7L920.3,548.1L922.3,547.5L924.3,546.9L926.3,546.3L928.3,545.7L930.3,545.1L932.3,544.5L934.3,543.9L936.3,543.3L938.3,542.7L940.3,542.1L942.3,541.5L944.3,541.0L946.3,540.4L948.3,539.8L950.3,539.2L952.3,538.7L954.3,538.1L956.3,537.5L958.3,537.0L960.3,536.4L962.3,535.9L964.3,535.3L966.3,534.8L968.3,534.2L970.3,533.7L972.3,533.1L974.3,532.6L976.3,532.1L978.3,531.6L980.3,531.1L982.3,530.5L984.3,530.0L986.3,529.5L988.3,529.1L990.3,528.6L992.3,528.1L994.3,527.6L996.3,527.1L998.3,526.7L1000.3,526.2L1002.3,525.8L1004.3,525.3L1006.3,524.9L1008.3,524.4L1010.3,524.0L1012.3,523.6L1014.3,523.2L1016.3,522.8L1018.3,522.4L1020.3,522.0L1022.3,521.6L1024.3,521.2L1026.3,520.9L1028.3,520.5L1030.3,520.1L1032.3,519.8L1034.3,519.5L1036.3,519.1L1038.3,518.8L1040.3,518.5L1042.3,518.2L1044.3,517.9L1046.3,517.6L1048.3,517.3L1050.3,517.1L1052.3,516.8L1054.3,516.6L1056.3,516.3L1058.3,516.1L1060.3,515.9L1062.3,515.7L1064.3,515.5L1066.3,515.3L1068.3,515.1L1070.3,514.9L1072.3,514.8L1074.3,514.6L1076.3,514.5L1078.3,514.4L1080.3,514.2L1082.3,514.1L1084.3,514.0L1086.3,514.0L1088.3,513.9L1090.3,513.8L1092.3,513.8L1094.3,513.7L1096.3,513.7L1098.3,513.7L1100.3,513.7L1102.3,513.7L1104.3,513.7L1106.3,513.7L1108.3,513.8L1110.3,513.8L1112.3,513.9L1114.3,514.0L1116.3,514.0L1118.3,514.1L1120.3,514.3L1122.3,514.4L1124.3,514.5L1126.3,514.7L1128.3,514.8L1130.3,515.0L1132.3,515.2L1134.3,515.4L1136.3,515.6L1138.3,515.8L1140.3,516.1L1142.3,516.3L1144.3,516.6L1146.3,516.8L1148.3,517.1L1150.3,517.4L1152.3,517.7L1154.3,518.1L1156.3,518.4L1158.3,518.8L1160.3,519.1L1162.3,519.5L1164.3,519.9L1166.3,520.3L1168.3,520.7L1170.3,521.1L1172.3,521.6L1174.3,522.0L1176.3,522.5L1178.3,523.0L1180.3,523.5L1182.3,524.0L1184.3,524.5L1186.3,525.0L1188.3,525.5L1190.3,526.1L1192.3,526.7L1194.3,527.2L1196.3,527.8L1198.3,528.4L1200.3,529.0L1202.3,529.7L1204.3,530.3L1206.3,530.9L1208.3,531.6L1210.3,532.3L1212.3,533.0L1214.3,533.7L1216.3,534.4L1218.3,535.1L1220.3,535.8L1222.3,536.5L1224.3,537.3L1226.3,538.1L1228.3,538.8L1230.3,539.6L1232.3,540.4L1234.3,541.2L1236.3,542.0L1238.3,542.8L1240.3,543.7L1242.3,544.5L1244.3,545.4L1246.3,546.2L1248.3,547.1L1250.3,548.0L1252.3,548.9L1254.3,549.7L1256.3,550.6L1258.3,551.6L1260.3,552.5L1262.3,553.4L1264.3,554.3L1266.3,555.3L1268.3,556.2L1270.3,557.2L1272.3,558.1L1274.3,559.1L1276.3,560.1L1278.3,561.0L1280.3,562.0L1282.3,563.0L1284.3,564.0L1286.3,565.0L1288.3,566.0L1290.3,567.0L1292.3,568.0L1294.3,569.0L1296.3,570.0L1298.3,571.0L1300.3,572.0L1302.3,573.0L1304.3,574.0L1306.3,575.1L1308.3,576.1L1310.3,577.1L1312.3,578.1L1314.3,579.1L1316.3,580.1L1318.3,581.1L1320.3,582.1L1322.3,583.2L1324.3,584.2L1326.3,585.2L1328.3,586.2L1330.3,587.1L1332.3,588.1L1334.3,589.1L1336.3,590.1L1338.3,591.1L1340.3,592.0L1342.3,593.0L1344.3,593.9L1346.3,594.9L1348.3,595.8L1350.3,596.7L1352.3,597.6L1354.3,598.5L1356.3,599.4L1358.3,600.3L1360.3,601.1L1362.3,602.0L1364.3,602.8L1366.3,603.6L1368.3,604.4L1370.3,605.2L1372.3,606.0L1374.3,606.7L1376.3,607.5L1378.3,608.2L1380.3,608.9L1382.3,609.6L1384.3,610.2L1386.3,610.9L1388.3,611.5L1390.3,612.1L1392.3,612.7L1394.3,613.2L1396.3,613.7L1398.3,614.2L1400.3,614.7L1402.3,615.1L1404.3,615.5L1406.3,615.9L1408.3,616.3L1410.3,616.6L1412.3,616.9L1414.3,617.1L1416.3,617.4L1418.3,617.5L1420.3,617.7L1422.3,617.8L1424.3,617.9L1426.3,617.9L1428.3,617.9L1430.3,617.9L1432.3,617.8L1434.3,617.7L1436.3,617.5L1438.3,617.3L1440.3,617.1L1442.3,616.8L1444.3,616.4L1446.3,616.0L1448.3,615.6L1450.3,615.1L1452.3,614.5L1454.3,613.9L1456.3,613.3L1458.3,612.5L1460.3,611.8L1462.3,611.0L1464.3,610.1L1466.3,609.1L1468.3,608.1L1470.3,607.1L1472.3,605.9L1474.3,604.7L1476.3,603.5L1478.3,602.1L1480.3,600.7L1482.3,599.3L1484.3,597.7L1486.3,596.1L1488.3,594.4L1490.3,592.7L1492.3,590.8L1494.3,588.9L1496.3,586.9L1498.3,584.8L1500.3,582.7L1502.3,580.4L1504.3,578.1L1506.3,575.7L1508.3,573.1L1510.3,570.5L1512.3,567.9L1514.3,565.1L1516.3,562.2L1518.3,559.2L1520.3,556.1L1522.3,553.0L1524.3,549.7L1526.3,546.3L1528.3,542.8L1530.3,539.3L1532.3,535.6L1534.3,531.8L1536.3,527.8L1538.3,523.8L1540.3,519.7L1542.3,515.4L1544.3,511.0L1546.3,506.5L1548.3,501.9L1550.3,497.1L1552.3,492.3L1554.3,487.3L1556.3,482.1L1558.3,476.9L1560.3,471.5L1562.3,465.9L1564.3,460.3L1566.3,454.5L1568.3,448.5L1570.3,442.4L1572.3,436.2L1574.3,429.8L1576.3,423.2L1577.8,418.2" stroke="#12A9EB" stroke-width="5.5"/>
</g>
<line x1="63.099999999999994" y1="952.40" x2="1578.3999999999999" y2="952.40" stroke="#000" stroke-width="1.3"/>
<g style="filter:grayscale(1)">
<text class="ax" x="49.6" y="959.9" text-anchor="end">0</text>
<text class="ax" x="49.6" y="816.9" text-anchor="end">5</text>
<text class="ax" x="49.6" y="673.9" text-anchor="end">10</text>
<text class="ax" x="49.6" y="531.9" text-anchor="end">15</text>
<text class="ax" x="49.6" y="388.9" text-anchor="end">20</text>
<text class="ax" x="49.6" y="246.9" text-anchor="end">25</text>
<text class="ax" x="49.6" y="103.9" text-anchor="end">30</text>
<text class="ax" x="70.3" y="989" text-anchor="middle">6:00:00</text>
<text class="ax" x="237.8" y="989" text-anchor="middle">8:00:00</text>
<text class="ax" x="405.3" y="989" text-anchor="middle">10:00:00</text>
<text class="ax" x="572.8" y="989" text-anchor="middle">12:00:00</text>
<text class="ax" x="740.3" y="989" text-anchor="middle">14:00:00</text>
<text class="ax" x="907.8" y="989" text-anchor="middle">16:00:00</text>
<text class="ax" x="1075.3" y="989" text-anchor="middle">18:00:00</text>
<text class="ax" x="1242.8" y="989" text-anchor="middle">20:00:00</text>
<text class="ax" x="1410.3" y="989" text-anchor="middle">22:00:00</text>
<text class="ax" x="1577.8" y="989" text-anchor="middle">0:00:00</text>
<text class="ti" x="181" y="55">935 Jane Express Headways at N of Jane Stn Northbound June 2021</text>
</g>
<rect x="275.5" y="1018.5" width="1090" height="88" fill="#fff" stroke="#000" stroke-width="1" shape-rendering="crispEdges"/>
<circle cx="314.4" cy="1039.7" r="3.7" fill="#7131A3"/>
<line x1="292.3" y1="1084.8" x2="338.6" y2="1084.8" stroke="#7131A3" stroke-width="3.8" stroke-linecap="round"/>
<path d="M533.4,1035.8L537.3,1039.7L533.4,1043.6000000000001L529.5,1039.7Z" fill="#F20808"/>
<line x1="510.4" y1="1084.8" x2="556.5" y2="1084.8" stroke="#F20808" stroke-width="4.2" stroke-linecap="round"/>
<rect x="746.8" y="1036.1" width="7.2" height="7.2" fill="#FFFF00"/>
<line x1="728.7" y1="1084.8" x2="774.1" y2="1084.8" stroke="#FFFF00" stroke-width="4.8" stroke-linecap="round"/>
<path d="M969.4,1036.5L973.3,1043.9L965.5,1043.9Z" fill="#0CF20C"/>
<line x1="946.5" y1="1084.8" x2="992.2" y2="1084.8" stroke="#0CF20C" stroke-width="4.6" stroke-linecap="round"/>
<circle cx="1186.5" cy="1039.7" r="3.7" fill="#12A9EB"/>
<line x1="1164.8" y1="1084.8" x2="1210.8" y2="1084.8" stroke="#12A9EB" stroke-width="5.5" stroke-linecap="round"/>
<g style="filter:grayscale(1)"><text class="lg" x="343.7" y="1048">Mon.7</text><text class="lg" x="343.7" y="1091.8">Poly. (Mon.7)</text><text class="lg" x="561.5" y="1048">Tue.8</text><text class="lg" x="561.5" y="1091.8">Poly. (Tue.8)</text><text class="lg" x="779.4" y="1048">Wed.9</text><text class="lg" x="779.4" y="1091.8">Poly. (Wed.9)</text><text class="lg" x="997.1" y="1048">Thu.10</text><text class="lg" x="997.1" y="1091.8">Poly. (Thu.10)</text><text class="lg" x="1216.2" y="1048">Fri.11</text><text class="lg" x="1216.2" y="1091.8">Poly. (Fri.11)</text></g>
</svg></body></html>
